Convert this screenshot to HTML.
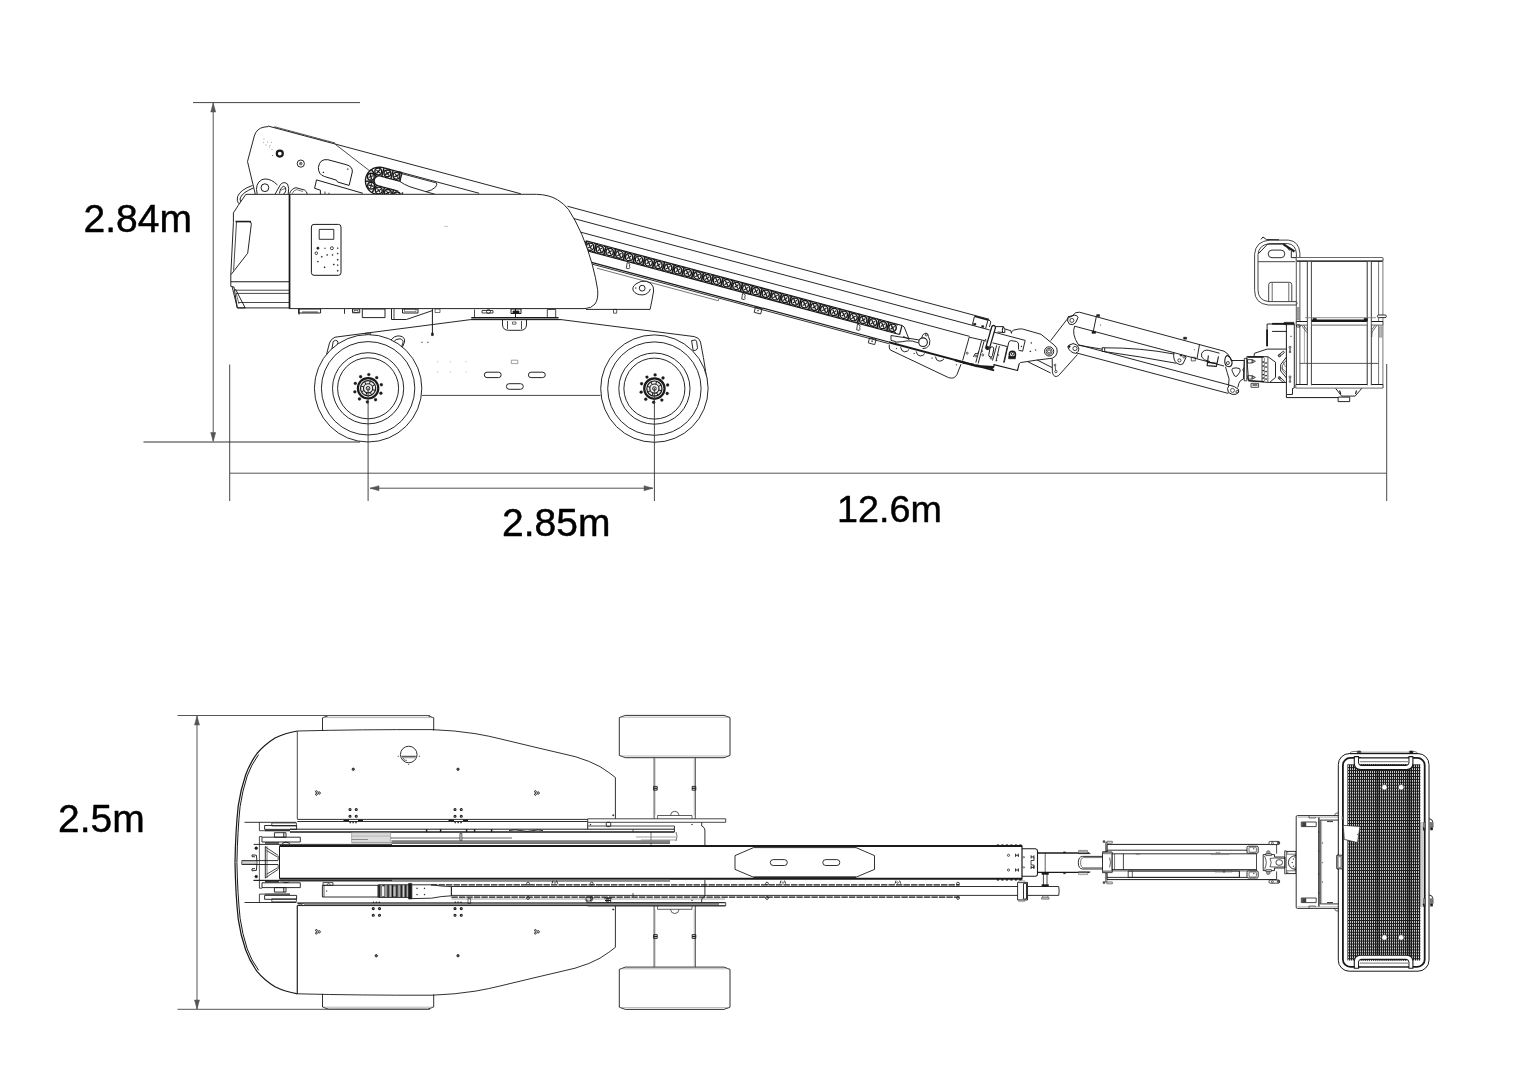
<!DOCTYPE html>
<html><head><meta charset="utf-8"><title>Boom lift dimensions</title>
<style>
html,body{margin:0;padding:0;background:#fff;}
body{width:1540px;height:1080px;overflow:hidden;font-family:"Liberation Sans",sans-serif;}
svg{display:block;filter:grayscale(1);}
svg text{font-family:"Liberation Sans",sans-serif;}
</style></head><body>
<svg width="1540" height="1080" viewBox="0 0 1540 1080" stroke-linecap="butt" stroke-linejoin="round">
<rect x="0" y="0" width="1540" height="1080" fill="#fff"/>
<path d="M326.50 354.50 L329.50 343.00 L331.50 339.50 L335.00 337.20 L470.70 319.60 L561.00 319.60 L694.30 336.60 L698.50 338.50 L700.50 342.00 L703.40 357.40 L707.00 380.00" stroke="#1a1a1a" stroke-width="0.95" fill="none" />
<line x1="422" y1="395.4" x2="600.6" y2="395.4" stroke="#1a1a1a" stroke-width="0.8"/>
<path d="M333.2 341.5 q2.5 -2.2 4.3 -0.5 q1.2 1.6 -0.5 4.2 l-3.6 4.6 q-1.5 0.5 -1.4 -1.2 z" stroke="#1a1a1a" stroke-width="0.95" fill="none" />
<path d="M390 341.5 q4 -6.5 10 -5.5 q5.5 1.2 4.5 6 l-2 5" stroke="#1a1a1a" stroke-width="0.95" fill="none" />
<path d="M392.5 343 q3.5 -4.8 7.5 -4.2 q3.6 0.8 3 4 l-1.5 4" stroke="#1a1a1a" stroke-width="0.95" fill="none" />
<rect x="365.5" y="333.2" width="5.2" height="2.6" rx="0" stroke="#1a1a1a" stroke-width="0.8" fill="none"/>
<path d="M691.6 340.6 l3.6 -0.6 q1.2 0.2 1.5 1.8 l0.8 6 q-0.2 1.8 -1.8 2.4 l-2.6 0.4 z" stroke="#1a1a1a" stroke-width="0.95" fill="none" />
<line x1="432.4" y1="309" x2="432.4" y2="333" stroke="#1a1a1a" stroke-width="1.0"/>
<rect x="431.5" y="333" width="1.8" height="2.6" rx="0" stroke="#1a1a1a" stroke-width="0.6" fill="#1a1a1a"/>
<circle cx="422" cy="342.2" r="0.5" stroke="#1a1a1a" stroke-width="0.2" fill="#1a1a1a"/>
<circle cx="427.9" cy="342.2" r="0.5" stroke="#1a1a1a" stroke-width="0.2" fill="#1a1a1a"/>
<circle cx="437.6" cy="361.7" r="0.5" stroke="#bbb" stroke-width="0.2" fill="#bbb"/>
<circle cx="437.6" cy="372" r="0.5" stroke="#bbb" stroke-width="0.2" fill="#bbb"/>
<circle cx="450.6" cy="361.7" r="0.5" stroke="#bbb" stroke-width="0.2" fill="#bbb"/>
<circle cx="450.6" cy="372" r="0.5" stroke="#bbb" stroke-width="0.2" fill="#bbb"/>
<circle cx="466.2" cy="361.7" r="0.5" stroke="#bbb" stroke-width="0.2" fill="#bbb"/>
<circle cx="466.2" cy="372" r="0.5" stroke="#bbb" stroke-width="0.2" fill="#bbb"/>
<rect x="484.3" y="372.2" width="16.9" height="5.4" rx="2.7" stroke="#1a1a1a" stroke-width="0.95" fill="none"/>
<rect x="528.4" y="372.2" width="16.9" height="5.4" rx="2.7" stroke="#1a1a1a" stroke-width="0.95" fill="none"/>
<rect x="506.4" y="383.7" width="16.9" height="5.6" rx="2.8" stroke="#1a1a1a" stroke-width="0.95" fill="none"/>
<rect x="511.3" y="360.2" width="6.5" height="3.4" rx="0" stroke="#777" stroke-width="0.7" fill="none"/>
<circle cx="368.1" cy="388.3" r="53.7" stroke="#1a1a1a" stroke-width="0.95" fill="#fff"/>
<circle cx="368.1" cy="388.3" r="46.7" stroke="#1a1a1a" stroke-width="0.95" fill="none"/>
<circle cx="368.1" cy="388.3" r="35.6" stroke="#1a1a1a" stroke-width="0.95" fill="none"/>
<circle cx="368.1" cy="388.3" r="30.5" stroke="#1a1a1a" stroke-width="0.95" fill="none"/>
<circle cx="368.1" cy="388.3" r="10.2" stroke="#1a1a1a" stroke-width="2.2" fill="#ececec"/>
<circle cx="368.1" cy="388.3" r="7.6" stroke="#1a1a1a" stroke-width="1.2" fill="none"/>
<circle cx="368.1" cy="388.3" r="4.6" stroke="#1a1a1a" stroke-width="1.1" fill="none"/>
<circle cx="368.1" cy="388.3" r="1.8" stroke="#1a1a1a" stroke-width="1.0" fill="none"/>
<line x1="372.49454784997783" y1="389.6593929506422" x2="375.3605573173546" y2="390.5459535706262" stroke="#1a1a1a" stroke-width="1.0"/>
<line x1="370.24617861127183" y1="392.36865055866434" x2="371.6458603142752" y2="395.022118314315" stroke="#1a1a1a" stroke-width="1.0"/>
<line x1="366.74060704935783" y1="392.6945478499778" x2="365.85404642937385" y2="395.5605573173546" stroke="#1a1a1a" stroke-width="1.0"/>
<line x1="364.0313494413357" y1="390.4461786112718" x2="361.37788168568505" y2="391.84586031427517" stroke="#1a1a1a" stroke-width="1.0"/>
<line x1="363.7054521500222" y1="386.9406070493578" x2="360.8394426826454" y2="386.05404642937384" stroke="#1a1a1a" stroke-width="1.0"/>
<line x1="365.9538213887282" y1="384.2313494413357" x2="364.55413968572486" y2="381.57788168568504" stroke="#1a1a1a" stroke-width="1.0"/>
<line x1="369.45939295064215" y1="383.9054521500222" x2="370.3459535706262" y2="381.0394426826454" stroke="#1a1a1a" stroke-width="1.0"/>
<line x1="372.16865055866435" y1="386.1538213887282" x2="374.822118314315" y2="384.75413968572485" stroke="#1a1a1a" stroke-width="1.0"/>
<circle cx="368.8170026005284" cy="374.6187753738624" r="1.45" stroke="#1a1a1a" stroke-width="0.3" fill="#1a1a1a"/>
<circle cx="376.7216893573828" cy="377.6531003280395" r="1.45" stroke="#1a1a1a" stroke-width="0.3" fill="#1a1a1a"/>
<circle cx="381.33318382016023" cy="384.7541790820955" r="1.45" stroke="#1a1a1a" stroke-width="0.3" fill="#1a1a1a"/>
<circle cx="380.8900518430117" cy="393.2096409087706" r="1.45" stroke="#1a1a1a" stroke-width="0.3" fill="#1a1a1a"/>
<circle cx="375.5615547797059" cy="399.7897867808523" r="1.45" stroke="#1a1a1a" stroke-width="0.3" fill="#1a1a1a"/>
<circle cx="367.3829973994717" cy="401.98122462613765" r="1.45" stroke="#1a1a1a" stroke-width="0.3" fill="#1a1a1a"/>
<circle cx="359.47831064261726" cy="398.9468996719605" r="1.45" stroke="#1a1a1a" stroke-width="0.3" fill="#1a1a1a"/>
<circle cx="354.8668161798398" cy="391.8458209179046" r="1.45" stroke="#1a1a1a" stroke-width="0.3" fill="#1a1a1a"/>
<circle cx="355.30994815698836" cy="383.3903590912294" r="1.45" stroke="#1a1a1a" stroke-width="0.3" fill="#1a1a1a"/>
<circle cx="360.63844522029416" cy="376.8102132191477" r="1.45" stroke="#1a1a1a" stroke-width="0.3" fill="#1a1a1a"/>
<circle cx="654.4" cy="388.6" r="53.7" stroke="#1a1a1a" stroke-width="0.95" fill="#fff"/>
<circle cx="654.4" cy="388.6" r="46.7" stroke="#1a1a1a" stroke-width="0.95" fill="none"/>
<circle cx="654.4" cy="388.6" r="35.6" stroke="#1a1a1a" stroke-width="0.95" fill="none"/>
<circle cx="654.4" cy="388.6" r="30.5" stroke="#1a1a1a" stroke-width="0.95" fill="none"/>
<circle cx="654.4" cy="388.6" r="10.2" stroke="#1a1a1a" stroke-width="2.2" fill="#ececec"/>
<circle cx="654.4" cy="388.6" r="7.6" stroke="#1a1a1a" stroke-width="1.2" fill="none"/>
<circle cx="654.4" cy="388.6" r="4.6" stroke="#1a1a1a" stroke-width="1.1" fill="none"/>
<circle cx="654.4" cy="388.6" r="1.8" stroke="#1a1a1a" stroke-width="1.0" fill="none"/>
<line x1="658.7945478499778" y1="389.9593929506422" x2="661.6605573173546" y2="390.8459535706262" stroke="#1a1a1a" stroke-width="1.0"/>
<line x1="656.5461786112718" y1="392.66865055866435" x2="657.9458603142751" y2="395.322118314315" stroke="#1a1a1a" stroke-width="1.0"/>
<line x1="653.0406070493578" y1="392.99454784997783" x2="652.1540464293738" y2="395.8605573173546" stroke="#1a1a1a" stroke-width="1.0"/>
<line x1="650.3313494413356" y1="390.74617861127183" x2="647.6778816856851" y2="392.1458603142752" stroke="#1a1a1a" stroke-width="1.0"/>
<line x1="650.0054521500222" y1="387.24060704935783" x2="647.1394426826454" y2="386.35404642937385" stroke="#1a1a1a" stroke-width="1.0"/>
<line x1="652.2538213887282" y1="384.5313494413357" x2="650.8541396857248" y2="381.87788168568505" stroke="#1a1a1a" stroke-width="1.0"/>
<line x1="655.7593929506421" y1="384.2054521500222" x2="656.6459535706261" y2="381.3394426826454" stroke="#1a1a1a" stroke-width="1.0"/>
<line x1="658.4686505586643" y1="386.4538213887282" x2="661.1221183143149" y2="385.05413968572486" stroke="#1a1a1a" stroke-width="1.0"/>
<circle cx="655.1170026005283" cy="374.9187753738624" r="1.45" stroke="#1a1a1a" stroke-width="0.3" fill="#1a1a1a"/>
<circle cx="663.0216893573828" cy="377.9531003280395" r="1.45" stroke="#1a1a1a" stroke-width="0.3" fill="#1a1a1a"/>
<circle cx="667.6331838201602" cy="385.0541790820955" r="1.45" stroke="#1a1a1a" stroke-width="0.3" fill="#1a1a1a"/>
<circle cx="667.1900518430116" cy="393.5096409087706" r="1.45" stroke="#1a1a1a" stroke-width="0.3" fill="#1a1a1a"/>
<circle cx="661.8615547797059" cy="400.0897867808523" r="1.45" stroke="#1a1a1a" stroke-width="0.3" fill="#1a1a1a"/>
<circle cx="653.6829973994717" cy="402.28122462613766" r="1.45" stroke="#1a1a1a" stroke-width="0.3" fill="#1a1a1a"/>
<circle cx="645.7783106426172" cy="399.24689967196053" r="1.45" stroke="#1a1a1a" stroke-width="0.3" fill="#1a1a1a"/>
<circle cx="641.1668161798398" cy="392.1458209179046" r="1.45" stroke="#1a1a1a" stroke-width="0.3" fill="#1a1a1a"/>
<circle cx="641.6099481569884" cy="383.6903590912294" r="1.45" stroke="#1a1a1a" stroke-width="0.3" fill="#1a1a1a"/>
<circle cx="646.938445220294" cy="377.11021321914774" r="1.45" stroke="#1a1a1a" stroke-width="0.3" fill="#1a1a1a"/>
<line x1="474.5" y1="309.5" x2="474.5" y2="317.3" stroke="#1a1a1a" stroke-width="0.8"/>
<line x1="471.3" y1="317.7" x2="558.5" y2="317.7" stroke="#1a1a1a" stroke-width="1.4"/>
<line x1="470.7" y1="319.6" x2="561" y2="319.6" stroke="#1a1a1a" stroke-width="0.8"/>
<rect x="547.3" y="309.5" width="8.4" height="8" rx="0" stroke="#1a1a1a" stroke-width="0.8" fill="none"/>
<path d="M502.5 320 v5 q0.5 5.3 6 5.3 h12 q5.5 0 6 -5.3 v-5" stroke="#1a1a1a" stroke-width="0.95" fill="none" />
<line x1="507.5" y1="321" x2="507.5" y2="329" stroke="#1a1a1a" stroke-width="0.8"/>
<line x1="521.5" y1="321" x2="521.5" y2="329" stroke="#1a1a1a" stroke-width="0.8"/>
<rect x="512.5" y="322" width="3.5" height="2.2" rx="0" stroke="#1a1a1a" stroke-width="0.6" fill="none"/>
<rect x="482" y="310.5" width="11" height="2.5" rx="0" stroke="#1a1a1a" stroke-width="0.8" fill="none"/>
<circle cx="488.5" cy="311.5" r="2" stroke="#1a1a1a" stroke-width="0.8" fill="none"/>
<rect x="511" y="309" width="10" height="4.5" rx="0" stroke="#1a1a1a" stroke-width="1.0" fill="none"/>
<line x1="515.5" y1="308" x2="515.5" y2="317" stroke="#1a1a1a" stroke-width="1.0"/>
<rect x="513" y="311" width="6" height="2" rx="0" stroke="#1a1a1a" stroke-width="0.8" fill="#1a1a1a"/>
<rect x="298.6" y="309" width="22" height="4" rx="0" stroke="#1a1a1a" stroke-width="0.95" fill="none"/>
<line x1="299" y1="309" x2="299" y2="314.5" stroke="#1a1a1a" stroke-width="1.2"/>
<line x1="302" y1="312" x2="318" y2="312" stroke="#1a1a1a" stroke-width="0.8"/>
<line x1="344.5" y1="309" x2="344.5" y2="313.8" stroke="#1a1a1a" stroke-width="0.9"/>
<rect x="352.5" y="309" width="7.2" height="3.8" rx="0" stroke="#1a1a1a" stroke-width="0.95" fill="none"/>
<rect x="354" y="310.5" width="4" height="2" rx="0" stroke="#1a1a1a" stroke-width="0.6" fill="none"/>
<rect x="362.3" y="309" width="22.7" height="8.6" rx="0" stroke="#1a1a1a" stroke-width="0.95" fill="none"/>
<path d="M391.50 309.00 L391.50 319.50 L406.40 319.50 L432.40 310.60" stroke="#1a1a1a" stroke-width="0.95" fill="none" />
<line x1="394" y1="309" x2="394" y2="319.5" stroke="#1a1a1a" stroke-width="0.8"/>
<rect x="402.5" y="309" width="15.5" height="4" rx="0" stroke="#1a1a1a" stroke-width="0.95" fill="none"/>
<rect x="404.5" y="309" width="11.5" height="2.6" rx="0" stroke="#1a1a1a" stroke-width="0.5" fill="none"/>
<rect x="435" y="309" width="5" height="3.5" rx="0" stroke="#1a1a1a" stroke-width="0.6" fill="none"/>
<path d="M586.00 309.40 L650.10 309.40 L652.00 300.00 L653.60 291.00 L653.20 287.00 L651.00 283.50 L646.50 281.30" stroke="#1a1a1a" stroke-width="0.95" fill="none" />
<rect x="613.5" y="309.4" width="3.2" height="3.8" rx="0" stroke="#1a1a1a" stroke-width="0.7" fill="none"/>
<path d="M646.5 281.3 q-5.5 -1.2 -10.5 2.6 q-4.5 3.2 -2.6 7 q2.8 4.2 9.5 4 q5.6 -0.6 7.5 -6" stroke="#1a1a1a" stroke-width="0.95" fill="none" />
<circle cx="642.2" cy="288.2" r="2.9" stroke="#1a1a1a" stroke-width="0.95" fill="none"/>
<circle cx="635.8" cy="288" r="0.5" stroke="#1a1a1a" stroke-width="0.3" fill="#1a1a1a"/>
<line x1="268.0" y1="126.03" x2="520.8" y2="193.77" stroke="#1a1a1a" stroke-width="0.95"/>
<line x1="274.26" y1="126.67" x2="335.26" y2="143.02" stroke="#1a1a1a" stroke-width="0.7"/>
<line x1="275.26" y1="126.94" x2="276.45" y2="128.29" stroke="#1a1a1a" stroke-width="0.5"/>
<line x1="279.7" y1="128.13" x2="280.89" y2="129.49" stroke="#1a1a1a" stroke-width="0.5"/>
<line x1="284.15" y1="129.32" x2="285.34" y2="130.68" stroke="#1a1a1a" stroke-width="0.5"/>
<line x1="288.59" y1="130.51" x2="289.78" y2="131.87" stroke="#1a1a1a" stroke-width="0.5"/>
<line x1="293.03" y1="131.7" x2="294.22" y2="133.06" stroke="#1a1a1a" stroke-width="0.5"/>
<line x1="297.48" y1="132.89" x2="298.67" y2="134.25" stroke="#1a1a1a" stroke-width="0.5"/>
<line x1="301.92" y1="134.08" x2="303.11" y2="135.44" stroke="#1a1a1a" stroke-width="0.5"/>
<line x1="306.36" y1="135.27" x2="307.55" y2="136.63" stroke="#1a1a1a" stroke-width="0.5"/>
<line x1="310.8" y1="136.46" x2="311.99" y2="137.82" stroke="#1a1a1a" stroke-width="0.5"/>
<line x1="315.25" y1="137.66" x2="316.44" y2="139.01" stroke="#1a1a1a" stroke-width="0.5"/>
<line x1="319.69" y1="138.85" x2="320.88" y2="140.2" stroke="#1a1a1a" stroke-width="0.5"/>
<line x1="324.13" y1="140.04" x2="325.32" y2="141.39" stroke="#1a1a1a" stroke-width="0.5"/>
<line x1="328.58" y1="141.23" x2="329.77" y2="142.58" stroke="#1a1a1a" stroke-width="0.5"/>
<line x1="333.02" y1="142.42" x2="334.21" y2="143.77" stroke="#1a1a1a" stroke-width="0.5"/>
<line x1="398.94" y1="171.78" x2="479.14" y2="193.27" stroke="#1a1a1a" stroke-width="0.95"/>
<line x1="398.85" y1="172.89" x2="435.85" y2="182.81" stroke="#1a1a1a" stroke-width="0.9"/>
<line x1="567.5" y1="206.28" x2="989.0" y2="319.22" stroke="#1a1a1a" stroke-width="0.95"/>
<line x1="570.36" y1="217.61" x2="989.67" y2="329.96" stroke="#1a1a1a" stroke-width="0.95"/>
<line x1="575.41" y1="230.76" x2="969.42" y2="336.34" stroke="#1a1a1a" stroke-width="0.95"/>
<line x1="591.57" y1="262.32" x2="888.87" y2="341.98" stroke="#1a1a1a" stroke-width="1.2"/>
<line x1="888.82" y1="342.18" x2="994.12" y2="370.39" stroke="#1a1a1a" stroke-width="2.0"/>
<line x1="591.45" y1="263.94" x2="888.75" y2="343.61" stroke="#1a1a1a" stroke-width="0.9"/>
<line x1="596.91" y1="268.2" x2="718.31" y2="300.73" stroke="#1a1a1a" stroke-width="0.6"/>
<line x1="718.31" y1="300.73" x2="718.88" y2="298.61" stroke="#1a1a1a" stroke-width="0.6"/>
<line x1="586.22" y1="240.8" x2="902.02" y2="325.42" stroke="#1a1a1a" stroke-width="1.1"/>
<line x1="583.79" y1="249.88" x2="899.59" y2="334.5" stroke="#1a1a1a" stroke-width="1.1"/>
<line x1="586.22" y1="240.8" x2="583.79" y2="249.88" stroke="#1a1a1a" stroke-width="1.2"/>
<line x1="902.02" y1="325.42" x2="899.59" y2="334.5" stroke="#1a1a1a" stroke-width="1.2"/>
<line x1="586.61" y1="240.91" x2="584.17" y2="249.99" stroke="#1a1a1a" stroke-width="1.7"/>
<circle cx="590.12" cy="246.71" r="3.7" stroke="#1a1a1a" stroke-width="1.5" fill="none"/>
<line x1="588.86" y1="244.1" x2="591.39" y2="249.33" stroke="#1a1a1a" stroke-width="1.3"/>
<line x1="587.99" y1="248.11" x2="589.76" y2="246.93" stroke="#1a1a1a" stroke-width="1.2"/>
<line x1="590.71" y1="246.46" x2="592.26" y2="245.32" stroke="#1a1a1a" stroke-width="1.2"/>
<line x1="587.22" y1="241.69" x2="588.58" y2="242.06" stroke="#1a1a1a" stroke-width="1.3"/>
<line x1="593.99" y1="243.5" x2="595.53" y2="243.92" stroke="#1a1a1a" stroke-width="1.3"/>
<line x1="585.1" y1="249.61" x2="586.45" y2="249.98" stroke="#1a1a1a" stroke-width="1.3"/>
<line x1="591.86" y1="251.43" x2="593.41" y2="251.84" stroke="#1a1a1a" stroke-width="1.3"/>
<line x1="596.36" y1="243.52" x2="593.93" y2="252.6" stroke="#1a1a1a" stroke-width="1.7"/>
<circle cx="599.88" cy="249.33" r="3.7" stroke="#1a1a1a" stroke-width="1.5" fill="none"/>
<line x1="598.61" y1="246.71" x2="601.15" y2="251.95" stroke="#1a1a1a" stroke-width="1.3"/>
<line x1="597.75" y1="250.72" x2="599.51" y2="249.54" stroke="#1a1a1a" stroke-width="1.2"/>
<line x1="600.47" y1="249.07" x2="602.01" y2="247.93" stroke="#1a1a1a" stroke-width="1.2"/>
<line x1="596.98" y1="244.31" x2="598.33" y2="244.67" stroke="#1a1a1a" stroke-width="1.3"/>
<line x1="603.74" y1="246.12" x2="605.29" y2="246.53" stroke="#1a1a1a" stroke-width="1.3"/>
<line x1="594.86" y1="252.23" x2="596.21" y2="252.59" stroke="#1a1a1a" stroke-width="1.3"/>
<line x1="601.62" y1="254.04" x2="603.16" y2="254.45" stroke="#1a1a1a" stroke-width="1.3"/>
<line x1="606.12" y1="246.13" x2="603.69" y2="255.21" stroke="#1a1a1a" stroke-width="1.7"/>
<circle cx="609.64" cy="251.94" r="3.7" stroke="#1a1a1a" stroke-width="1.5" fill="none"/>
<line x1="608.37" y1="249.33" x2="610.9" y2="254.56" stroke="#1a1a1a" stroke-width="1.3"/>
<line x1="607.5" y1="253.34" x2="609.27" y2="252.15" stroke="#1a1a1a" stroke-width="1.2"/>
<line x1="610.22" y1="251.69" x2="611.77" y2="250.55" stroke="#1a1a1a" stroke-width="1.2"/>
<line x1="606.74" y1="246.92" x2="608.09" y2="247.28" stroke="#1a1a1a" stroke-width="1.3"/>
<line x1="613.5" y1="248.73" x2="615.04" y2="249.15" stroke="#1a1a1a" stroke-width="1.3"/>
<line x1="604.61" y1="254.84" x2="605.97" y2="255.2" stroke="#1a1a1a" stroke-width="1.3"/>
<line x1="611.38" y1="256.65" x2="612.92" y2="257.07" stroke="#1a1a1a" stroke-width="1.3"/>
<line x1="615.87" y1="248.75" x2="613.44" y2="257.83" stroke="#1a1a1a" stroke-width="1.7"/>
<circle cx="619.39" cy="254.56" r="3.7" stroke="#1a1a1a" stroke-width="1.5" fill="none"/>
<line x1="618.13" y1="251.94" x2="620.66" y2="257.17" stroke="#1a1a1a" stroke-width="1.3"/>
<line x1="617.26" y1="255.95" x2="619.02" y2="254.77" stroke="#1a1a1a" stroke-width="1.2"/>
<line x1="619.98" y1="254.3" x2="621.52" y2="253.16" stroke="#1a1a1a" stroke-width="1.2"/>
<line x1="616.49" y1="249.54" x2="617.84" y2="249.9" stroke="#1a1a1a" stroke-width="1.3"/>
<line x1="623.25" y1="251.35" x2="624.8" y2="251.76" stroke="#1a1a1a" stroke-width="1.3"/>
<line x1="614.37" y1="257.46" x2="615.72" y2="257.82" stroke="#1a1a1a" stroke-width="1.3"/>
<line x1="621.13" y1="259.27" x2="622.68" y2="259.68" stroke="#1a1a1a" stroke-width="1.3"/>
<line x1="625.63" y1="251.36" x2="623.2" y2="260.44" stroke="#1a1a1a" stroke-width="1.7"/>
<circle cx="629.15" cy="257.17" r="3.7" stroke="#1a1a1a" stroke-width="1.5" fill="none"/>
<line x1="627.88" y1="254.55" x2="630.41" y2="259.79" stroke="#1a1a1a" stroke-width="1.3"/>
<line x1="627.01" y1="258.57" x2="628.78" y2="257.38" stroke="#1a1a1a" stroke-width="1.2"/>
<line x1="629.73" y1="256.91" x2="631.28" y2="255.78" stroke="#1a1a1a" stroke-width="1.2"/>
<line x1="626.25" y1="252.15" x2="627.6" y2="252.51" stroke="#1a1a1a" stroke-width="1.3"/>
<line x1="633.01" y1="253.96" x2="634.55" y2="254.38" stroke="#1a1a1a" stroke-width="1.3"/>
<line x1="624.13" y1="260.07" x2="625.48" y2="260.43" stroke="#1a1a1a" stroke-width="1.3"/>
<line x1="630.89" y1="261.88" x2="632.43" y2="262.3" stroke="#1a1a1a" stroke-width="1.3"/>
<line x1="635.39" y1="253.98" x2="632.95" y2="263.06" stroke="#1a1a1a" stroke-width="1.7"/>
<circle cx="638.9" cy="259.78" r="3.7" stroke="#1a1a1a" stroke-width="1.5" fill="none"/>
<line x1="637.64" y1="257.17" x2="640.17" y2="262.4" stroke="#1a1a1a" stroke-width="1.3"/>
<line x1="636.77" y1="261.18" x2="638.54" y2="260.0" stroke="#1a1a1a" stroke-width="1.2"/>
<line x1="639.49" y1="259.53" x2="641.04" y2="258.39" stroke="#1a1a1a" stroke-width="1.2"/>
<line x1="636.0" y1="254.76" x2="637.36" y2="255.13" stroke="#1a1a1a" stroke-width="1.3"/>
<line x1="642.76" y1="256.58" x2="644.31" y2="256.99" stroke="#1a1a1a" stroke-width="1.3"/>
<line x1="633.88" y1="262.68" x2="635.23" y2="263.05" stroke="#1a1a1a" stroke-width="1.3"/>
<line x1="640.64" y1="264.5" x2="642.19" y2="264.91" stroke="#1a1a1a" stroke-width="1.3"/>
<line x1="645.14" y1="256.59" x2="642.71" y2="265.67" stroke="#1a1a1a" stroke-width="1.7"/>
<circle cx="648.66" cy="262.4" r="3.7" stroke="#1a1a1a" stroke-width="1.5" fill="none"/>
<line x1="647.39" y1="259.78" x2="649.92" y2="265.02" stroke="#1a1a1a" stroke-width="1.3"/>
<line x1="646.52" y1="263.79" x2="648.29" y2="262.61" stroke="#1a1a1a" stroke-width="1.2"/>
<line x1="649.24" y1="262.14" x2="650.79" y2="261.0" stroke="#1a1a1a" stroke-width="1.2"/>
<line x1="645.76" y1="257.38" x2="647.11" y2="257.74" stroke="#1a1a1a" stroke-width="1.3"/>
<line x1="652.52" y1="259.19" x2="654.07" y2="259.6" stroke="#1a1a1a" stroke-width="1.3"/>
<line x1="643.64" y1="265.3" x2="644.99" y2="265.66" stroke="#1a1a1a" stroke-width="1.3"/>
<line x1="650.4" y1="267.11" x2="651.94" y2="267.52" stroke="#1a1a1a" stroke-width="1.3"/>
<line x1="654.9" y1="259.21" x2="652.46" y2="268.28" stroke="#1a1a1a" stroke-width="1.7"/>
<circle cx="658.41" cy="265.01" r="3.7" stroke="#1a1a1a" stroke-width="1.5" fill="none"/>
<line x1="657.15" y1="262.4" x2="659.68" y2="267.63" stroke="#1a1a1a" stroke-width="1.3"/>
<line x1="656.28" y1="266.41" x2="658.05" y2="265.23" stroke="#1a1a1a" stroke-width="1.2"/>
<line x1="659.0" y1="264.76" x2="660.55" y2="263.62" stroke="#1a1a1a" stroke-width="1.2"/>
<line x1="655.52" y1="259.99" x2="656.87" y2="260.35" stroke="#1a1a1a" stroke-width="1.3"/>
<line x1="662.28" y1="261.8" x2="663.82" y2="262.22" stroke="#1a1a1a" stroke-width="1.3"/>
<line x1="653.39" y1="267.91" x2="654.75" y2="268.27" stroke="#1a1a1a" stroke-width="1.3"/>
<line x1="660.15" y1="269.72" x2="661.7" y2="270.14" stroke="#1a1a1a" stroke-width="1.3"/>
<line x1="664.65" y1="261.82" x2="662.22" y2="270.9" stroke="#1a1a1a" stroke-width="1.7"/>
<circle cx="668.17" cy="267.63" r="3.7" stroke="#1a1a1a" stroke-width="1.5" fill="none"/>
<line x1="666.9" y1="265.01" x2="669.44" y2="270.24" stroke="#1a1a1a" stroke-width="1.3"/>
<line x1="666.04" y1="269.02" x2="667.8" y2="267.84" stroke="#1a1a1a" stroke-width="1.2"/>
<line x1="668.76" y1="267.37" x2="670.3" y2="266.23" stroke="#1a1a1a" stroke-width="1.2"/>
<line x1="665.27" y1="262.61" x2="666.62" y2="262.97" stroke="#1a1a1a" stroke-width="1.3"/>
<line x1="672.03" y1="264.42" x2="673.58" y2="264.83" stroke="#1a1a1a" stroke-width="1.3"/>
<line x1="663.15" y1="270.53" x2="664.5" y2="270.89" stroke="#1a1a1a" stroke-width="1.3"/>
<line x1="669.91" y1="272.34" x2="671.46" y2="272.75" stroke="#1a1a1a" stroke-width="1.3"/>
<line x1="674.41" y1="264.43" x2="671.98" y2="273.51" stroke="#1a1a1a" stroke-width="1.7"/>
<circle cx="677.93" cy="270.24" r="3.7" stroke="#1a1a1a" stroke-width="1.5" fill="none"/>
<line x1="676.66" y1="267.62" x2="679.19" y2="272.86" stroke="#1a1a1a" stroke-width="1.3"/>
<line x1="675.79" y1="271.64" x2="677.56" y2="270.45" stroke="#1a1a1a" stroke-width="1.2"/>
<line x1="678.51" y1="269.98" x2="680.06" y2="268.85" stroke="#1a1a1a" stroke-width="1.2"/>
<line x1="675.03" y1="265.22" x2="676.38" y2="265.58" stroke="#1a1a1a" stroke-width="1.3"/>
<line x1="681.79" y1="267.03" x2="683.33" y2="267.45" stroke="#1a1a1a" stroke-width="1.3"/>
<line x1="672.9" y1="273.14" x2="674.26" y2="273.5" stroke="#1a1a1a" stroke-width="1.3"/>
<line x1="679.67" y1="274.95" x2="681.21" y2="275.37" stroke="#1a1a1a" stroke-width="1.3"/>
<line x1="684.17" y1="267.05" x2="681.73" y2="276.13" stroke="#1a1a1a" stroke-width="1.7"/>
<circle cx="687.68" cy="272.86" r="3.7" stroke="#1a1a1a" stroke-width="1.5" fill="none"/>
<line x1="686.42" y1="270.24" x2="688.95" y2="275.47" stroke="#1a1a1a" stroke-width="1.3"/>
<line x1="685.55" y1="274.25" x2="687.31" y2="273.07" stroke="#1a1a1a" stroke-width="1.2"/>
<line x1="688.27" y1="272.6" x2="689.82" y2="271.46" stroke="#1a1a1a" stroke-width="1.2"/>
<line x1="684.78" y1="267.83" x2="686.14" y2="268.2" stroke="#1a1a1a" stroke-width="1.3"/>
<line x1="691.54" y1="269.65" x2="693.09" y2="270.06" stroke="#1a1a1a" stroke-width="1.3"/>
<line x1="682.66" y1="275.75" x2="684.01" y2="276.12" stroke="#1a1a1a" stroke-width="1.3"/>
<line x1="689.42" y1="277.57" x2="690.97" y2="277.98" stroke="#1a1a1a" stroke-width="1.3"/>
<line x1="693.92" y1="269.66" x2="691.49" y2="278.74" stroke="#1a1a1a" stroke-width="1.7"/>
<circle cx="697.44" cy="275.47" r="3.7" stroke="#1a1a1a" stroke-width="1.5" fill="none"/>
<line x1="696.17" y1="272.85" x2="698.7" y2="278.09" stroke="#1a1a1a" stroke-width="1.3"/>
<line x1="695.3" y1="276.86" x2="697.07" y2="275.68" stroke="#1a1a1a" stroke-width="1.2"/>
<line x1="698.02" y1="275.21" x2="699.57" y2="274.07" stroke="#1a1a1a" stroke-width="1.2"/>
<line x1="694.54" y1="270.45" x2="695.89" y2="270.81" stroke="#1a1a1a" stroke-width="1.3"/>
<line x1="701.3" y1="272.26" x2="702.85" y2="272.67" stroke="#1a1a1a" stroke-width="1.3"/>
<line x1="692.42" y1="278.37" x2="693.77" y2="278.73" stroke="#1a1a1a" stroke-width="1.3"/>
<line x1="699.18" y1="280.18" x2="700.72" y2="280.59" stroke="#1a1a1a" stroke-width="1.3"/>
<line x1="703.68" y1="272.28" x2="701.24" y2="281.36" stroke="#1a1a1a" stroke-width="1.7"/>
<circle cx="707.19" cy="278.08" r="3.7" stroke="#1a1a1a" stroke-width="1.5" fill="none"/>
<line x1="705.93" y1="275.47" x2="708.46" y2="280.7" stroke="#1a1a1a" stroke-width="1.3"/>
<line x1="705.06" y1="279.48" x2="706.83" y2="278.3" stroke="#1a1a1a" stroke-width="1.2"/>
<line x1="707.78" y1="277.83" x2="709.33" y2="276.69" stroke="#1a1a1a" stroke-width="1.2"/>
<line x1="704.29" y1="273.06" x2="705.65" y2="273.42" stroke="#1a1a1a" stroke-width="1.3"/>
<line x1="711.06" y1="274.87" x2="712.6" y2="275.29" stroke="#1a1a1a" stroke-width="1.3"/>
<line x1="702.17" y1="280.98" x2="703.52" y2="281.34" stroke="#1a1a1a" stroke-width="1.3"/>
<line x1="708.93" y1="282.79" x2="710.48" y2="283.21" stroke="#1a1a1a" stroke-width="1.3"/>
<line x1="713.43" y1="274.89" x2="711.0" y2="283.97" stroke="#1a1a1a" stroke-width="1.7"/>
<circle cx="716.95" cy="280.7" r="3.7" stroke="#1a1a1a" stroke-width="1.5" fill="none"/>
<line x1="715.68" y1="278.08" x2="718.22" y2="283.31" stroke="#1a1a1a" stroke-width="1.3"/>
<line x1="714.82" y1="282.09" x2="716.58" y2="280.91" stroke="#1a1a1a" stroke-width="1.2"/>
<line x1="717.54" y1="280.44" x2="719.08" y2="279.3" stroke="#1a1a1a" stroke-width="1.2"/>
<line x1="714.05" y1="275.68" x2="715.4" y2="276.04" stroke="#1a1a1a" stroke-width="1.3"/>
<line x1="720.81" y1="277.49" x2="722.36" y2="277.9" stroke="#1a1a1a" stroke-width="1.3"/>
<line x1="711.93" y1="283.6" x2="713.28" y2="283.96" stroke="#1a1a1a" stroke-width="1.3"/>
<line x1="718.69" y1="285.41" x2="720.23" y2="285.82" stroke="#1a1a1a" stroke-width="1.3"/>
<line x1="723.19" y1="277.5" x2="720.76" y2="286.58" stroke="#1a1a1a" stroke-width="1.7"/>
<circle cx="726.71" cy="283.31" r="3.7" stroke="#1a1a1a" stroke-width="1.5" fill="none"/>
<line x1="725.44" y1="280.69" x2="727.97" y2="285.93" stroke="#1a1a1a" stroke-width="1.3"/>
<line x1="724.57" y1="284.71" x2="726.34" y2="283.52" stroke="#1a1a1a" stroke-width="1.2"/>
<line x1="727.29" y1="283.05" x2="728.84" y2="281.92" stroke="#1a1a1a" stroke-width="1.2"/>
<line x1="723.81" y1="278.29" x2="725.16" y2="278.65" stroke="#1a1a1a" stroke-width="1.3"/>
<line x1="730.57" y1="280.1" x2="732.11" y2="280.52" stroke="#1a1a1a" stroke-width="1.3"/>
<line x1="721.68" y1="286.21" x2="723.04" y2="286.57" stroke="#1a1a1a" stroke-width="1.3"/>
<line x1="728.45" y1="288.02" x2="729.99" y2="288.44" stroke="#1a1a1a" stroke-width="1.3"/>
<line x1="732.94" y1="280.12" x2="730.51" y2="289.2" stroke="#1a1a1a" stroke-width="1.7"/>
<circle cx="736.46" cy="285.93" r="3.7" stroke="#1a1a1a" stroke-width="1.5" fill="none"/>
<line x1="735.2" y1="283.31" x2="737.73" y2="288.54" stroke="#1a1a1a" stroke-width="1.3"/>
<line x1="734.33" y1="287.32" x2="736.09" y2="286.14" stroke="#1a1a1a" stroke-width="1.2"/>
<line x1="737.05" y1="285.67" x2="738.59" y2="284.53" stroke="#1a1a1a" stroke-width="1.2"/>
<line x1="733.56" y1="280.9" x2="734.91" y2="281.27" stroke="#1a1a1a" stroke-width="1.3"/>
<line x1="740.32" y1="282.72" x2="741.87" y2="283.13" stroke="#1a1a1a" stroke-width="1.3"/>
<line x1="731.44" y1="288.82" x2="732.79" y2="289.19" stroke="#1a1a1a" stroke-width="1.3"/>
<line x1="738.2" y1="290.64" x2="739.75" y2="291.05" stroke="#1a1a1a" stroke-width="1.3"/>
<line x1="742.7" y1="282.73" x2="740.27" y2="291.81" stroke="#1a1a1a" stroke-width="1.7"/>
<circle cx="746.22" cy="288.54" r="3.7" stroke="#1a1a1a" stroke-width="1.5" fill="none"/>
<line x1="744.95" y1="285.92" x2="747.48" y2="291.16" stroke="#1a1a1a" stroke-width="1.3"/>
<line x1="744.08" y1="289.93" x2="745.85" y2="288.75" stroke="#1a1a1a" stroke-width="1.2"/>
<line x1="746.8" y1="288.28" x2="748.35" y2="287.14" stroke="#1a1a1a" stroke-width="1.2"/>
<line x1="743.32" y1="283.52" x2="744.67" y2="283.88" stroke="#1a1a1a" stroke-width="1.3"/>
<line x1="750.08" y1="285.33" x2="751.62" y2="285.74" stroke="#1a1a1a" stroke-width="1.3"/>
<line x1="741.2" y1="291.44" x2="742.55" y2="291.8" stroke="#1a1a1a" stroke-width="1.3"/>
<line x1="747.96" y1="293.25" x2="749.5" y2="293.66" stroke="#1a1a1a" stroke-width="1.3"/>
<line x1="752.46" y1="285.35" x2="750.02" y2="294.43" stroke="#1a1a1a" stroke-width="1.7"/>
<circle cx="755.97" cy="291.15" r="3.7" stroke="#1a1a1a" stroke-width="1.5" fill="none"/>
<line x1="754.71" y1="288.54" x2="757.24" y2="293.77" stroke="#1a1a1a" stroke-width="1.3"/>
<line x1="753.84" y1="292.55" x2="755.61" y2="291.37" stroke="#1a1a1a" stroke-width="1.2"/>
<line x1="756.56" y1="290.9" x2="758.11" y2="289.76" stroke="#1a1a1a" stroke-width="1.2"/>
<line x1="753.07" y1="286.13" x2="754.43" y2="286.49" stroke="#1a1a1a" stroke-width="1.3"/>
<line x1="759.84" y1="287.94" x2="761.38" y2="288.36" stroke="#1a1a1a" stroke-width="1.3"/>
<line x1="750.95" y1="294.05" x2="752.3" y2="294.42" stroke="#1a1a1a" stroke-width="1.3"/>
<line x1="757.71" y1="295.86" x2="759.26" y2="296.28" stroke="#1a1a1a" stroke-width="1.3"/>
<line x1="762.21" y1="287.96" x2="759.78" y2="297.04" stroke="#1a1a1a" stroke-width="1.7"/>
<circle cx="765.73" cy="293.77" r="3.7" stroke="#1a1a1a" stroke-width="1.5" fill="none"/>
<line x1="764.46" y1="291.15" x2="766.99" y2="296.38" stroke="#1a1a1a" stroke-width="1.3"/>
<line x1="763.59" y1="295.16" x2="765.36" y2="293.98" stroke="#1a1a1a" stroke-width="1.2"/>
<line x1="766.32" y1="293.51" x2="767.86" y2="292.37" stroke="#1a1a1a" stroke-width="1.2"/>
<line x1="762.83" y1="288.75" x2="764.18" y2="289.11" stroke="#1a1a1a" stroke-width="1.3"/>
<line x1="769.59" y1="290.56" x2="771.14" y2="290.97" stroke="#1a1a1a" stroke-width="1.3"/>
<line x1="760.71" y1="296.67" x2="762.06" y2="297.03" stroke="#1a1a1a" stroke-width="1.3"/>
<line x1="767.47" y1="298.48" x2="769.01" y2="298.89" stroke="#1a1a1a" stroke-width="1.3"/>
<line x1="771.97" y1="290.57" x2="769.54" y2="299.65" stroke="#1a1a1a" stroke-width="1.7"/>
<circle cx="775.48" cy="296.38" r="3.7" stroke="#1a1a1a" stroke-width="1.5" fill="none"/>
<line x1="774.22" y1="293.77" x2="776.75" y2="299.0" stroke="#1a1a1a" stroke-width="1.3"/>
<line x1="773.35" y1="297.78" x2="775.12" y2="296.59" stroke="#1a1a1a" stroke-width="1.2"/>
<line x1="776.07" y1="296.12" x2="777.62" y2="294.99" stroke="#1a1a1a" stroke-width="1.2"/>
<line x1="772.59" y1="291.36" x2="773.94" y2="291.72" stroke="#1a1a1a" stroke-width="1.3"/>
<line x1="779.35" y1="293.17" x2="780.89" y2="293.59" stroke="#1a1a1a" stroke-width="1.3"/>
<line x1="770.46" y1="299.28" x2="771.82" y2="299.64" stroke="#1a1a1a" stroke-width="1.3"/>
<line x1="777.22" y1="301.09" x2="778.77" y2="301.51" stroke="#1a1a1a" stroke-width="1.3"/>
<line x1="781.72" y1="293.19" x2="779.29" y2="302.27" stroke="#1a1a1a" stroke-width="1.7"/>
<circle cx="785.24" cy="299.0" r="3.7" stroke="#1a1a1a" stroke-width="1.5" fill="none"/>
<line x1="783.97" y1="296.38" x2="786.51" y2="301.61" stroke="#1a1a1a" stroke-width="1.3"/>
<line x1="783.11" y1="300.39" x2="784.87" y2="299.21" stroke="#1a1a1a" stroke-width="1.2"/>
<line x1="785.83" y1="298.74" x2="787.37" y2="297.6" stroke="#1a1a1a" stroke-width="1.2"/>
<line x1="782.34" y1="293.97" x2="783.69" y2="294.34" stroke="#1a1a1a" stroke-width="1.3"/>
<line x1="789.1" y1="295.79" x2="790.65" y2="296.2" stroke="#1a1a1a" stroke-width="1.3"/>
<line x1="780.22" y1="301.9" x2="781.57" y2="302.26" stroke="#1a1a1a" stroke-width="1.3"/>
<line x1="786.98" y1="303.71" x2="788.53" y2="304.12" stroke="#1a1a1a" stroke-width="1.3"/>
<line x1="791.48" y1="295.8" x2="789.05" y2="304.88" stroke="#1a1a1a" stroke-width="1.7"/>
<circle cx="795.0" cy="301.61" r="3.7" stroke="#1a1a1a" stroke-width="1.5" fill="none"/>
<line x1="793.73" y1="298.99" x2="796.26" y2="304.23" stroke="#1a1a1a" stroke-width="1.3"/>
<line x1="792.86" y1="303.01" x2="794.63" y2="301.82" stroke="#1a1a1a" stroke-width="1.2"/>
<line x1="795.58" y1="301.35" x2="797.13" y2="300.21" stroke="#1a1a1a" stroke-width="1.2"/>
<line x1="792.1" y1="296.59" x2="793.45" y2="296.95" stroke="#1a1a1a" stroke-width="1.3"/>
<line x1="798.86" y1="298.4" x2="800.4" y2="298.81" stroke="#1a1a1a" stroke-width="1.3"/>
<line x1="789.97" y1="304.51" x2="791.33" y2="304.87" stroke="#1a1a1a" stroke-width="1.3"/>
<line x1="796.74" y1="306.32" x2="798.28" y2="306.74" stroke="#1a1a1a" stroke-width="1.3"/>
<line x1="801.24" y1="298.42" x2="798.8" y2="307.5" stroke="#1a1a1a" stroke-width="1.7"/>
<circle cx="804.75" cy="304.22" r="3.7" stroke="#1a1a1a" stroke-width="1.5" fill="none"/>
<line x1="803.49" y1="301.61" x2="806.02" y2="306.84" stroke="#1a1a1a" stroke-width="1.3"/>
<line x1="802.62" y1="305.62" x2="804.38" y2="304.44" stroke="#1a1a1a" stroke-width="1.2"/>
<line x1="805.34" y1="303.97" x2="806.89" y2="302.83" stroke="#1a1a1a" stroke-width="1.2"/>
<line x1="801.85" y1="299.2" x2="803.21" y2="299.57" stroke="#1a1a1a" stroke-width="1.3"/>
<line x1="808.61" y1="301.01" x2="810.16" y2="301.43" stroke="#1a1a1a" stroke-width="1.3"/>
<line x1="799.73" y1="307.12" x2="801.08" y2="307.49" stroke="#1a1a1a" stroke-width="1.3"/>
<line x1="806.49" y1="308.94" x2="808.04" y2="309.35" stroke="#1a1a1a" stroke-width="1.3"/>
<line x1="810.99" y1="301.03" x2="808.56" y2="310.11" stroke="#1a1a1a" stroke-width="1.7"/>
<circle cx="814.51" cy="306.84" r="3.7" stroke="#1a1a1a" stroke-width="1.5" fill="none"/>
<line x1="813.24" y1="304.22" x2="815.77" y2="309.46" stroke="#1a1a1a" stroke-width="1.3"/>
<line x1="812.37" y1="308.23" x2="814.14" y2="307.05" stroke="#1a1a1a" stroke-width="1.2"/>
<line x1="815.09" y1="306.58" x2="816.64" y2="305.44" stroke="#1a1a1a" stroke-width="1.2"/>
<line x1="811.61" y1="301.82" x2="812.96" y2="302.18" stroke="#1a1a1a" stroke-width="1.3"/>
<line x1="818.37" y1="303.63" x2="819.92" y2="304.04" stroke="#1a1a1a" stroke-width="1.3"/>
<line x1="809.49" y1="309.74" x2="810.84" y2="310.1" stroke="#1a1a1a" stroke-width="1.3"/>
<line x1="816.25" y1="311.55" x2="817.79" y2="311.96" stroke="#1a1a1a" stroke-width="1.3"/>
<line x1="820.75" y1="303.64" x2="818.31" y2="312.72" stroke="#1a1a1a" stroke-width="1.7"/>
<circle cx="824.26" cy="309.45" r="3.7" stroke="#1a1a1a" stroke-width="1.5" fill="none"/>
<line x1="823.0" y1="306.84" x2="825.53" y2="312.07" stroke="#1a1a1a" stroke-width="1.3"/>
<line x1="822.13" y1="310.85" x2="823.9" y2="309.66" stroke="#1a1a1a" stroke-width="1.2"/>
<line x1="824.85" y1="309.2" x2="826.4" y2="308.06" stroke="#1a1a1a" stroke-width="1.2"/>
<line x1="821.36" y1="304.43" x2="822.72" y2="304.79" stroke="#1a1a1a" stroke-width="1.3"/>
<line x1="828.13" y1="306.24" x2="829.67" y2="306.66" stroke="#1a1a1a" stroke-width="1.3"/>
<line x1="819.24" y1="312.35" x2="820.59" y2="312.71" stroke="#1a1a1a" stroke-width="1.3"/>
<line x1="826.0" y1="314.16" x2="827.55" y2="314.58" stroke="#1a1a1a" stroke-width="1.3"/>
<line x1="830.5" y1="306.26" x2="828.07" y2="315.34" stroke="#1a1a1a" stroke-width="1.7"/>
<circle cx="834.02" cy="312.07" r="3.7" stroke="#1a1a1a" stroke-width="1.5" fill="none"/>
<line x1="832.75" y1="309.45" x2="835.29" y2="314.68" stroke="#1a1a1a" stroke-width="1.3"/>
<line x1="831.89" y1="313.46" x2="833.65" y2="312.28" stroke="#1a1a1a" stroke-width="1.2"/>
<line x1="834.61" y1="311.81" x2="836.15" y2="310.67" stroke="#1a1a1a" stroke-width="1.2"/>
<line x1="831.12" y1="307.04" x2="832.47" y2="307.41" stroke="#1a1a1a" stroke-width="1.3"/>
<line x1="837.88" y1="308.86" x2="839.43" y2="309.27" stroke="#1a1a1a" stroke-width="1.3"/>
<line x1="829.0" y1="314.97" x2="830.35" y2="315.33" stroke="#1a1a1a" stroke-width="1.3"/>
<line x1="835.76" y1="316.78" x2="837.31" y2="317.19" stroke="#1a1a1a" stroke-width="1.3"/>
<line x1="840.26" y1="308.87" x2="837.83" y2="317.95" stroke="#1a1a1a" stroke-width="1.7"/>
<circle cx="843.78" cy="314.68" r="3.7" stroke="#1a1a1a" stroke-width="1.5" fill="none"/>
<line x1="842.51" y1="312.06" x2="845.04" y2="317.3" stroke="#1a1a1a" stroke-width="1.3"/>
<line x1="841.64" y1="316.08" x2="843.41" y2="314.89" stroke="#1a1a1a" stroke-width="1.2"/>
<line x1="844.36" y1="314.42" x2="845.91" y2="313.29" stroke="#1a1a1a" stroke-width="1.2"/>
<line x1="840.88" y1="309.66" x2="842.23" y2="310.02" stroke="#1a1a1a" stroke-width="1.3"/>
<line x1="847.64" y1="311.47" x2="849.18" y2="311.88" stroke="#1a1a1a" stroke-width="1.3"/>
<line x1="838.75" y1="317.58" x2="840.11" y2="317.94" stroke="#1a1a1a" stroke-width="1.3"/>
<line x1="845.52" y1="319.39" x2="847.06" y2="319.81" stroke="#1a1a1a" stroke-width="1.3"/>
<line x1="850.01" y1="311.49" x2="847.58" y2="320.57" stroke="#1a1a1a" stroke-width="1.7"/>
<circle cx="853.53" cy="317.29" r="3.7" stroke="#1a1a1a" stroke-width="1.5" fill="none"/>
<line x1="852.27" y1="314.68" x2="854.8" y2="319.91" stroke="#1a1a1a" stroke-width="1.3"/>
<line x1="851.4" y1="318.69" x2="853.16" y2="317.51" stroke="#1a1a1a" stroke-width="1.2"/>
<line x1="854.12" y1="317.04" x2="855.67" y2="315.9" stroke="#1a1a1a" stroke-width="1.2"/>
<line x1="850.63" y1="312.27" x2="851.98" y2="312.64" stroke="#1a1a1a" stroke-width="1.3"/>
<line x1="857.39" y1="314.08" x2="858.94" y2="314.5" stroke="#1a1a1a" stroke-width="1.3"/>
<line x1="848.51" y1="320.19" x2="849.86" y2="320.56" stroke="#1a1a1a" stroke-width="1.3"/>
<line x1="855.27" y1="322.01" x2="856.82" y2="322.42" stroke="#1a1a1a" stroke-width="1.3"/>
<line x1="859.77" y1="314.1" x2="857.34" y2="323.18" stroke="#1a1a1a" stroke-width="1.7"/>
<circle cx="863.29" cy="319.91" r="3.7" stroke="#1a1a1a" stroke-width="1.5" fill="none"/>
<line x1="862.02" y1="317.29" x2="864.55" y2="322.53" stroke="#1a1a1a" stroke-width="1.3"/>
<line x1="861.15" y1="321.3" x2="862.92" y2="320.12" stroke="#1a1a1a" stroke-width="1.2"/>
<line x1="863.87" y1="319.65" x2="865.42" y2="318.51" stroke="#1a1a1a" stroke-width="1.2"/>
<line x1="860.39" y1="314.89" x2="861.74" y2="315.25" stroke="#1a1a1a" stroke-width="1.3"/>
<line x1="867.15" y1="316.7" x2="868.7" y2="317.11" stroke="#1a1a1a" stroke-width="1.3"/>
<line x1="858.27" y1="322.81" x2="859.62" y2="323.17" stroke="#1a1a1a" stroke-width="1.3"/>
<line x1="865.03" y1="324.62" x2="866.57" y2="325.03" stroke="#1a1a1a" stroke-width="1.3"/>
<line x1="869.53" y1="316.71" x2="867.09" y2="325.79" stroke="#1a1a1a" stroke-width="1.7"/>
<circle cx="873.04" cy="322.52" r="3.7" stroke="#1a1a1a" stroke-width="1.5" fill="none"/>
<line x1="871.78" y1="319.91" x2="874.31" y2="325.14" stroke="#1a1a1a" stroke-width="1.3"/>
<line x1="870.91" y1="323.92" x2="872.68" y2="322.73" stroke="#1a1a1a" stroke-width="1.2"/>
<line x1="873.63" y1="322.27" x2="875.18" y2="321.13" stroke="#1a1a1a" stroke-width="1.2"/>
<line x1="870.14" y1="317.5" x2="871.5" y2="317.86" stroke="#1a1a1a" stroke-width="1.3"/>
<line x1="876.91" y1="319.31" x2="878.45" y2="319.73" stroke="#1a1a1a" stroke-width="1.3"/>
<line x1="868.02" y1="325.42" x2="869.37" y2="325.78" stroke="#1a1a1a" stroke-width="1.3"/>
<line x1="874.78" y1="327.23" x2="876.33" y2="327.65" stroke="#1a1a1a" stroke-width="1.3"/>
<line x1="879.28" y1="319.33" x2="876.85" y2="328.41" stroke="#1a1a1a" stroke-width="1.7"/>
<circle cx="882.8" cy="325.14" r="3.7" stroke="#1a1a1a" stroke-width="1.5" fill="none"/>
<line x1="881.53" y1="322.52" x2="884.06" y2="327.75" stroke="#1a1a1a" stroke-width="1.3"/>
<line x1="880.67" y1="326.53" x2="882.43" y2="325.35" stroke="#1a1a1a" stroke-width="1.2"/>
<line x1="883.39" y1="324.88" x2="884.93" y2="323.74" stroke="#1a1a1a" stroke-width="1.2"/>
<line x1="879.9" y1="320.12" x2="881.25" y2="320.48" stroke="#1a1a1a" stroke-width="1.3"/>
<line x1="886.66" y1="321.93" x2="888.21" y2="322.34" stroke="#1a1a1a" stroke-width="1.3"/>
<line x1="877.78" y1="328.04" x2="879.13" y2="328.4" stroke="#1a1a1a" stroke-width="1.3"/>
<line x1="884.54" y1="329.85" x2="886.08" y2="330.26" stroke="#1a1a1a" stroke-width="1.3"/>
<line x1="889.04" y1="321.94" x2="886.61" y2="331.02" stroke="#1a1a1a" stroke-width="1.7"/>
<circle cx="892.55" cy="327.75" r="3.7" stroke="#1a1a1a" stroke-width="1.5" fill="none"/>
<line x1="891.29" y1="325.13" x2="893.82" y2="330.37" stroke="#1a1a1a" stroke-width="1.3"/>
<line x1="890.42" y1="329.15" x2="892.19" y2="327.96" stroke="#1a1a1a" stroke-width="1.2"/>
<line x1="893.14" y1="327.49" x2="894.69" y2="326.36" stroke="#1a1a1a" stroke-width="1.2"/>
<line x1="889.66" y1="322.73" x2="891.01" y2="323.09" stroke="#1a1a1a" stroke-width="1.3"/>
<line x1="896.42" y1="324.54" x2="897.96" y2="324.96" stroke="#1a1a1a" stroke-width="1.3"/>
<line x1="887.53" y1="330.65" x2="888.89" y2="331.01" stroke="#1a1a1a" stroke-width="1.3"/>
<line x1="894.29" y1="332.46" x2="895.84" y2="332.88" stroke="#1a1a1a" stroke-width="1.3"/>
<path d="M627.2 262.6 l-0.9 5.6 l2.6 0.6 q1.6 -1.2 0.4 -2.6 q1.2 -1.4 -0.2 -3 z" stroke="#1a1a1a" stroke-width="0.8" fill="none" />
<path d="M742.6 293.4 l-0.9 5.6 l2.6 0.6 q1.6 -1.2 0.4 -2.6 q1.2 -1.4 -0.2 -3 z" stroke="#1a1a1a" stroke-width="0.8" fill="none" />
<path d="M857.5 324.2 l-0.9 5.6 l2.6 0.6 q1.6 -1.2 0.4 -2.6 q1.2 -1.4 -0.2 -3 z" stroke="#1a1a1a" stroke-width="0.8" fill="none" />
<path d="M755.4 307.2 l6.6 1.8 l-1.4 5 l-6.4 -1.7 z" stroke="#1a1a1a" stroke-width="0.9" fill="none" />
<circle cx="758.0" cy="310.59999999999997" r="0.6" stroke="#1a1a1a" stroke-width="0.3" fill="#1a1a1a"/>
<path d="M869.5 337.8 l6.6 1.8 l-1.4 5 l-6.4 -1.7 z" stroke="#1a1a1a" stroke-width="0.9" fill="none" />
<circle cx="872.1" cy="341.2" r="0.6" stroke="#1a1a1a" stroke-width="0.3" fill="#1a1a1a"/>
<path d="M268 126.6 L264 127.1 Q256.5 128.5 254.3 136 L247.5 161.5 L255.3 194.3" stroke="#1a1a1a" stroke-width="0.95" fill="none" />
<circle cx="279.8" cy="153.6" r="3.0" stroke="#1a1a1a" stroke-width="2.2" fill="none"/>
<circle cx="272.6" cy="155.4" r="0.45" stroke="#1a1a1a" stroke-width="0.2" fill="#1a1a1a"/>
<circle cx="264" cy="139" r="0.4" stroke="#888" stroke-width="0.2" fill="#888"/>
<circle cx="267.5" cy="142" r="0.4" stroke="#888" stroke-width="0.2" fill="#888"/>
<circle cx="271.5" cy="142.5" r="0.4" stroke="#888" stroke-width="0.2" fill="#888"/>
<circle cx="266" cy="145" r="0.4" stroke="#888" stroke-width="0.2" fill="#888"/>
<circle cx="269.5" cy="147" r="0.4" stroke="#888" stroke-width="0.2" fill="#888"/>
<circle cx="272" cy="149.5" r="0.4" stroke="#888" stroke-width="0.2" fill="#888"/>
<circle cx="263.5" cy="142.5" r="0.4" stroke="#888" stroke-width="0.2" fill="#888"/>
<circle cx="270" cy="145.5" r="0.4" stroke="#888" stroke-width="0.2" fill="#888"/>
<circle cx="300.8" cy="163.6" r="3.6" stroke="#1a1a1a" stroke-width="0.95" fill="none"/>
<circle cx="300.8" cy="163.6" r="1.3" stroke="#1a1a1a" stroke-width="0.7" fill="none"/>
<circle cx="300.8" cy="163.6" r="0.5" stroke="#1a1a1a" stroke-width="0.2" fill="#1a1a1a"/>
<path d="M327.8 159.7 Q319.5 158.6 318.4 167.5 Q318.2 174.5 324.5 176.5 L336.5 180.2 L337.6 182 L349.1 185.4 L352.3 172 Q353 166.5 346 164.6 Z" stroke="#1a1a1a" stroke-width="1.0" fill="none" />
<circle cx="323.4" cy="172.4" r="0.6" stroke="#1a1a1a" stroke-width="0.2" fill="#1a1a1a"/>
<circle cx="347.8" cy="169.1" r="0.6" stroke="#1a1a1a" stroke-width="0.2" fill="#1a1a1a"/>
<path d="M314.60 188.30 L316.50 179.90 L362.90 193.30" stroke="#1a1a1a" stroke-width="1.0" fill="none" />
<path d="M314.60 188.30 L320.40 190.20 L320.40 194.30" stroke="#1a1a1a" stroke-width="1.0" fill="none" />
<line x1="325" y1="191.5" x2="325" y2="194.3" stroke="#1a1a1a" stroke-width="0.8"/>
<line x1="329" y1="192.7" x2="329" y2="194.3" stroke="#1a1a1a" stroke-width="0.8"/>
<line x1="335.3" y1="144.3" x2="370.4" y2="171.4" stroke="#1a1a1a" stroke-width="0.8"/>
<circle cx="264.9" cy="187.7" r="3.9" stroke="#1a1a1a" stroke-width="1.0" fill="none"/>
<path d="M257.2 194.3 Q254.5 183.5 262 179.6 Q268 177.6 274.3 182.2 L277.5 185" stroke="#1a1a1a" stroke-width="0.95" fill="none" />
<path d="M275.2 194 L280.5 184.5 Q283.8 181 287.5 184 Q289.5 187.5 288.2 194.3" stroke="#1a1a1a" stroke-width="0.95" fill="none" />
<path d="M279.5 193.5 Q280.2 187.8 283.5 186.3 Q286.3 186.5 285.8 190.5 Q285.2 193.5 283.3 194" stroke="#1a1a1a" stroke-width="0.95" fill="none" />
<line x1="281" y1="190.2" x2="285.5" y2="188.3" stroke="#1a1a1a" stroke-width="0.6"/>
<path d="M289.5 193.6 Q291.5 188.4 296 187.7 L304.5 190 Q307 191.5 307.3 194.3" stroke="#1a1a1a" stroke-width="0.95" fill="none" />
<path d="M292 193.8 Q293.5 190.2 296.5 189.6 L303 191.5" stroke="#1a1a1a" stroke-width="0.6" fill="none" />
<path d="M252.5 185.5 Q240.5 189.5 237.6 196.5 Q236.5 200.5 238.5 203.5" stroke="#1a1a1a" stroke-width="0.95" fill="none" />
<path d="M253.5 188 Q243 192 240.3 197.8 Q239.8 200 240.8 202" stroke="#1a1a1a" stroke-width="0.95" fill="none" />
<path d="M402.09 172.75 L400.64 172.36 L399.19 171.97 L397.74 171.58 L396.29 171.19 L394.85 170.81 L393.40 170.42 L391.95 170.03 L390.50 169.64 L389.05 169.25 L387.60 168.86 L386.15 168.48 L384.70 168.09 L383.25 167.70 L381.34 167.27 L379.14 167.10 L376.95 167.28 L374.82 167.81 L372.79 168.68 L370.93 169.85 L369.28 171.31 L367.88 173.00 L366.77 174.90 L365.98 176.95 L365.52 179.10 L365.41 181.30 L365.64 183.49 L366.23 185.61 L367.14 187.61 L368.36 189.44 L369.86 191.06 L371.59 192.41 L373.51 193.47 L375.58 194.22 L377.05 194.61 L378.50 195.00 L379.95 195.39 L381.39 195.77 L382.84 196.16 L384.29 196.55 L385.74 196.94 L387.19 197.33 L388.64 197.72 L390.09 198.10 L391.54 198.49 L392.99 198.88 L394.43 199.27 L395.88 199.66" stroke="#1a1a1a" stroke-width="1.3" fill="none" />
<path d="M399.81 181.25 L398.36 180.86 L396.91 180.47 L395.47 180.08 L394.02 179.69 L392.57 179.31 L391.12 178.92 L389.67 178.53 L388.22 178.14 L386.77 177.75 L385.32 177.36 L383.87 176.98 L382.43 176.59 L380.98 176.20 L379.97 175.96 L379.18 175.90 L378.38 175.97 L377.61 176.16 L376.88 176.47 L376.20 176.90 L375.61 177.42 L375.10 178.04 L374.70 178.73 L374.41 179.47 L374.24 180.25 L374.20 181.05 L374.29 181.84 L374.50 182.61 L374.83 183.33 L375.27 183.99 L375.81 184.58 L376.44 185.07 L377.14 185.46 L377.89 185.73 L379.32 186.11 L380.77 186.50 L382.22 186.89 L383.67 187.27 L385.12 187.66 L386.57 188.05 L388.02 188.44 L389.47 188.83 L390.92 189.22 L392.36 189.60 L393.81 189.99 L395.26 190.38 L396.71 190.77 L398.16 191.16" stroke="#1a1a1a" stroke-width="1.3" fill="none" />
<circle cx="396.51" cy="175.81" r="3.4" stroke="#1a1a1a" stroke-width="1.4" fill="none"/>
<line x1="398.905882682578" y1="174.5850821303463" x2="394.11043081505267" y2="177.02713892457686" stroke="#1a1a1a" stroke-width="1.3"/>
<line x1="397.8327127639716" y1="177.81746613070862" x2="395.1836007336591" y2="173.79475492421454" stroke="#1a1a1a" stroke-width="1.1"/>
<line x1="393.1071091637078" y1="170.33958737980782" x2="390.8295015668056" y2="178.83973465115162" stroke="#1a1a1a" stroke-width="1.5"/>
<circle cx="387.43" cy="173.37" r="3.4" stroke="#1a1a1a" stroke-width="1.4" fill="none"/>
<line x1="389.8261799154607" y1="172.1521831063826" x2="385.0307280479354" y2="174.59423990061316" stroke="#1a1a1a" stroke-width="1.3"/>
<line x1="388.7530099968543" y1="175.38456710674492" x2="386.1038979665418" y2="171.36185590025084" stroke="#1a1a1a" stroke-width="1.1"/>
<line x1="384.02740639659055" y1="167.90668835584412" x2="381.7497987996884" y2="176.40683562718792" stroke="#1a1a1a" stroke-width="1.5"/>
<circle cx="378.26" cy="171.55" r="3.4" stroke="#1a1a1a" stroke-width="1.4" fill="none"/>
<line x1="380.07297735114287" y1="169.55637136783864" x2="376.4519737805581" y2="173.5373678689439" stroke="#1a1a1a" stroke-width="1.3"/>
<line x1="380.2130791596308" y1="172.95936585553008" x2="376.31187197207015" y2="170.13437338125246" stroke="#1a1a1a" stroke-width="1.1"/>
<line x1="371.4090416611494" y1="169.5096107106783" x2="376.3771890076628" y2="176.7730473589414" stroke="#1a1a1a" stroke-width="1.5"/>
<circle cx="370.82" cy="176.64" r="3.4" stroke="#1a1a1a" stroke-width="1.4" fill="none"/>
<line x1="370.1263373193933" y1="174.03642618175016" x2="371.51979378695137" y2="179.23433721148322" stroke="#1a1a1a" stroke-width="1.3"/>
<line x1="373.0655557724292" y1="175.75718034354475" x2="368.5805753339155" y2="177.51358304968863" stroke="#1a1a1a" stroke-width="1.1"/>
<line x1="365.40584515196554" y1="181.3016117882336" x2="374.20211780868317" y2="181.04551151747594" stroke="#1a1a1a" stroke-width="1.5"/>
<circle cx="371.09" cy="185.64" r="3.4" stroke="#1a1a1a" stroke-width="1.4" fill="none"/>
<line x1="368.5219809108541" y1="184.82681911116822" x2="373.6487599665359" y2="186.4627092401874" stroke="#1a1a1a" stroke-width="1.3"/>
<line x1="371.5580121176171" y1="183.28327950637637" x2="370.6127287597729" y2="188.00624884497924" stroke="#1a1a1a" stroke-width="1.1"/>
<line x1="372.0849309950602" y1="192.72437283981458" x2="376.6220764474856" y2="185.18419305790383" stroke="#1a1a1a" stroke-width="1.5"/>
<circle cx="378.77" cy="190.52" r="3.4" stroke="#1a1a1a" stroke-width="1.4" fill="none"/>
<line x1="376.36790364305375" y1="191.73623528886208" x2="381.1633555105791" y2="189.29417849463152" stroke="#1a1a1a" stroke-width="1.3"/>
<line x1="377.4410735616602" y1="188.50385128849976" x2="380.09018559197267" y2="192.52656249499384" stroke="#1a1a1a" stroke-width="1.1"/>
<line x1="382.166677161924" y1="195.98173003940053" x2="384.44428475882614" y2="187.48158276805674" stroke="#1a1a1a" stroke-width="1.5"/>
<circle cx="387.85" cy="192.95" r="3.4" stroke="#1a1a1a" stroke-width="1.4" fill="none"/>
<line x1="385.447606410171" y1="194.16913431282578" x2="390.2430582776963" y2="191.72707751859522" stroke="#1a1a1a" stroke-width="1.3"/>
<line x1="386.5207763287774" y1="190.93675031246346" x2="389.1698883590899" y2="194.95946151895754" stroke="#1a1a1a" stroke-width="1.1"/>
<line x1="391.2463799290412" y1="198.41462906336423" x2="393.52398752594337" y2="189.91448179202044" stroke="#1a1a1a" stroke-width="1.5"/>
<circle cx="396.93" cy="195.38" r="3.4" stroke="#1a1a1a" stroke-width="1.4" fill="none"/>
<line x1="394.52730917728826" y1="196.60203333678945" x2="399.3227610448136" y2="194.1599765425589" stroke="#1a1a1a" stroke-width="1.3"/>
<line x1="395.6004790958947" y1="193.36964933642713" x2="398.2495911262072" y2="197.3923605429212" stroke="#1a1a1a" stroke-width="1.1"/>
<line x1="400.32608269615844" y1="200.84752808732793" x2="402.6036902930606" y2="192.34738081598414" stroke="#1a1a1a" stroke-width="1.5"/>
<line x1="402.0902193481961" y1="172.74660449926128" x2="399.81261175129396" y2="181.24675177060507" stroke="#1a1a1a" stroke-width="1.2"/>
<path d="M398.8 176.5 L400.5 181.5" stroke="#1a1a1a" stroke-width="0.95" fill="none" />
<path d="M436.4 182.6 Q437.6 184.5 435.4 187.2 Q432 190.5 426 191.7" stroke="#1a1a1a" stroke-width="0.95" fill="none" />
<path d="M399.5 181.2 Q404 184.5 410 186.8 L426 191.7 L435 194.3" stroke="#1a1a1a" stroke-width="0.95" fill="none" />
<path d="M289.3 194.35 L245.8 194.35 L238 205.8 L233.4 212.9 L233.4 222.7 L230.8 274.6 L230.8 286.3 L234 287 L237.3 307.9 L289.3 307.9" stroke="#1a1a1a" stroke-width="0.95" fill="#fff" />
<path d="M236 221.4 L249 221.4 Q251.6 221.6 251.3 224.3 L247.7 253.2 L234.1 270.7 L231 274.6" stroke="#1a1a1a" stroke-width="0.95" fill="none" />
<line x1="235.5" y1="221.6" x2="251" y2="221.6" stroke="#1a1a1a" stroke-width="1.5"/>
<line x1="236.5" y1="222" x2="233.6" y2="270.5" stroke="#1a1a1a" stroke-width="0.8"/>
<line x1="230.8" y1="281.8" x2="289.3" y2="281.8" stroke="#1a1a1a" stroke-width="1.1"/>
<line x1="235.4" y1="290.2" x2="289.3" y2="290.2" stroke="#1a1a1a" stroke-width="0.8"/>
<line x1="236" y1="293.4" x2="289.3" y2="293.4" stroke="#1a1a1a" stroke-width="0.8"/>
<line x1="238" y1="302.5" x2="289.3" y2="302.5" stroke="#1a1a1a" stroke-width="0.8"/>
<path d="M232.20 287.00 L237.30 307.90 L245.20 307.90 L235.40 289.00" stroke="#1a1a1a" stroke-width="0.95" fill="none" />
<line x1="236.2" y1="293.4" x2="239" y2="304" stroke="#1a1a1a" stroke-width="0.6"/>
<path d="M289.3 194.3 L536.4 194.3 Q549 194.6 557.5 199.8 Q564 203.6 568.5 209.5 Q575.5 220 581.8 234.4 Q588 249 592.2 264.3 Q596 278.5 597.6 289.5 Q598.6 299 595 304 Q591.5 308.3 585 308.6 L289.3 308.6 Z" stroke="#1a1a1a" stroke-width="0.95" fill="#fff" />
<line x1="289.6" y1="194.3" x2="289.6" y2="308.6" stroke="#1a1a1a" stroke-width="1.6"/>
<rect x="311.4" y="224.4" width="29.6" height="50.9" rx="2.6" stroke="#1a1a1a" stroke-width="1.0" fill="none"/>
<rect x="319.2" y="229.4" width="14.6" height="9.9" rx="0" stroke="#1a1a1a" stroke-width="0.9" fill="none"/>
<circle cx="317.9" cy="248.2" r="1.1" stroke="#1a1a1a" stroke-width="0.6" fill="#1a1a1a"/>
<circle cx="325" cy="248.2" r="0.55" stroke="#1a1a1a" stroke-width="0.2" fill="#1a1a1a"/>
<circle cx="331.9" cy="248.2" r="1.5" stroke="#1a1a1a" stroke-width="0.8" fill="none"/>
<circle cx="337.7" cy="248.2" r="0.6" stroke="#1a1a1a" stroke-width="0.2" fill="#1a1a1a"/>
<circle cx="316.3" cy="253.2" r="1.3" stroke="#1a1a1a" stroke-width="0.8" fill="none"/>
<circle cx="321.75" cy="256.8" r="0.7" stroke="#1a1a1a" stroke-width="0.2" fill="#1a1a1a"/>
<circle cx="327.2" cy="254.9" r="0.7" stroke="#1a1a1a" stroke-width="0.2" fill="#1a1a1a"/>
<circle cx="332.5" cy="254.9" r="0.7" stroke="#1a1a1a" stroke-width="0.2" fill="#1a1a1a"/>
<circle cx="337.7" cy="253.6" r="0.7" stroke="#1a1a1a" stroke-width="0.2" fill="#1a1a1a"/>
<circle cx="337.7" cy="259.7" r="0.7" stroke="#1a1a1a" stroke-width="0.2" fill="#1a1a1a"/>
<circle cx="317.9" cy="261.6" r="0.7" stroke="#1a1a1a" stroke-width="0.2" fill="#1a1a1a"/>
<circle cx="333.8" cy="264.5" r="0.7" stroke="#1a1a1a" stroke-width="0.2" fill="#1a1a1a"/>
<circle cx="337.7" cy="265.1" r="0.7" stroke="#1a1a1a" stroke-width="0.2" fill="#1a1a1a"/>
<circle cx="324.6" cy="267.3" r="0.7" stroke="#1a1a1a" stroke-width="0.2" fill="#1a1a1a"/>
<circle cx="337.7" cy="270.7" r="0.7" stroke="#1a1a1a" stroke-width="0.2" fill="#1a1a1a"/>
<rect x="444.5" y="226" width="1.2" height="0.5" rx="0" stroke="#999" stroke-width="0.2" fill="#999"/>
<rect x="446.5" y="226" width="1.2" height="0.5" rx="0" stroke="#999" stroke-width="0.2" fill="#999"/>
<path d="M902.02 325.42 L904.18 327.03 L909.13 339.44 L903.24 336.31" stroke="#1a1a1a" stroke-width="0.95" fill="none" />
<path d="M891.00 335.50 L918.80 339.90" stroke="#1a1a1a" stroke-width="0.95" fill="none" />
<path d="M891.00 335.50 L891.00 340.30 L895.60 341.60 L895.60 342.60" stroke="#1a1a1a" stroke-width="0.95" fill="none" />
<path d="M895.6 342.2 Q903 341.8 907 340.9 Q912 340.3 918.2 342.8" stroke="#1a1a1a" stroke-width="0.95" fill="none" />
<circle cx="923.05" cy="342.2" r="4.3" stroke="#1a1a1a" stroke-width="1.1" fill="#fff"/>
<path d="M921.8 338 Q922.5 333.2 926.2 333.2 Q928.5 333.6 928.4 336.5 Q930.8 340.5 929.4 345 Q927.2 348.8 922.5 348.7" stroke="#1a1a1a" stroke-width="0.95" fill="none" />
<circle cx="926.3" cy="334.8" r="1.1" stroke="#1a1a1a" stroke-width="0.8" fill="none"/>
<path d="M889.3 344.6 L889.3 348 Q889.5 349.6 891 350.3 L948.5 377.6 Q954.5 379.5 957 374.5 L961 364.2" stroke="#1a1a1a" stroke-width="0.95" fill="none" />
<path d="M900.6 347.2 q0.6 4.2 4 4.6 q3.2 -0.2 4.6 -2.4" stroke="#1a1a1a" stroke-width="0.95" fill="none" />
<path d="M916.2 351.4 q0.6 4.2 4 4.6 q3.2 -0.2 4.6 -2.4" stroke="#1a1a1a" stroke-width="0.95" fill="none" />
<path d="M935.4 356.6 q0.6 4.2 4 4.6 q3.2 -0.2 4.6 -2.4" stroke="#1a1a1a" stroke-width="0.95" fill="none" />
<circle cx="896.5" cy="348.6" r="0.5" stroke="#1a1a1a" stroke-width="0.2" fill="#1a1a1a"/>
<circle cx="914.2" cy="353.4" r="0.5" stroke="#1a1a1a" stroke-width="0.2" fill="#1a1a1a"/>
<circle cx="932" cy="358.1" r="0.5" stroke="#1a1a1a" stroke-width="0.2" fill="#1a1a1a"/>
<circle cx="956.4" cy="364.8" r="0.5" stroke="#1a1a1a" stroke-width="0.2" fill="#1a1a1a"/>
<path d="M974.40 316.60 L972.40 324.80" stroke="#1a1a1a" stroke-width="0.95" fill="none" />
<path d="M987.80 320.60 L985.60 328.60" stroke="#1a1a1a" stroke-width="0.95" fill="none" />
<path d="M969.20 337.30 L962.60 360.60" stroke="#1a1a1a" stroke-width="0.95" fill="none" />
<path d="M981.70 340.40 L975.80 362.60" stroke="#1a1a1a" stroke-width="0.95" fill="none" />
<path d="M984.10 341.10 L978.20 363.40" stroke="#1a1a1a" stroke-width="0.95" fill="none" />
<path d="M974.50 316.30 L988.90 320.20" stroke="#1a1a1a" stroke-width="1.5" fill="none" />
<path d="M988.9 319.9 Q991 320.8 990.6 322.8 L989.4 327" stroke="#1a1a1a" stroke-width="0.95" fill="none" />
<rect x="973.5" y="323.3" width="2.4" height="1.8" rx="0" stroke="#1a1a1a" stroke-width="0.4" fill="#1a1a1a"/>
<rect x="981.6" y="325.6" width="2.2" height="1.8" rx="0" stroke="#1a1a1a" stroke-width="0.4" fill="#1a1a1a"/>
<path d="M989.70 331.00 L1025.20 340.40 L1022.60 351.20 L1018.60 350.20" stroke="#1a1a1a" stroke-width="0.95" fill="none" />
<path d="M969.00 337.10 L986.60 341.10" stroke="#1a1a1a" stroke-width="0.95" fill="none" />
<path d="M992.50 342.80 L1007.80 346.70" stroke="#1a1a1a" stroke-width="0.95" fill="none" />
<path d="M996 326.6 L1003.4 326.6 Q1005.6 329 1004.8 332.6 L997.5 332" stroke="#1a1a1a" stroke-width="0.95" fill="none" />
<path d="M1003.4 326.6 Q1001.6 329.4 1002.6 332.6" stroke="#1a1a1a" stroke-width="1.2" fill="none" />
<path d="M1005 329 L1011 330.8 L1011.2 332.8" stroke="#1a1a1a" stroke-width="0.95" fill="none" />
<path d="M991.78 326.77 L985.88 347.07 A1.9 1.9 0 0 0 989.52 348.13 L995.42 327.83 A1.9 1.9 0 0 0 991.78 326.77 Z" stroke="#1a1a1a" stroke-width="1.3" fill="#fff" />
<circle cx="987.4" cy="347.6" r="1.5" stroke="#1a1a1a" stroke-width="0.6" fill="#1a1a1a"/>
<path d="M990.04 348.23 L988.74 354.83 A1.9 1.9 0 0 0 992.46 355.57 L993.76 348.97 A1.9 1.9 0 0 0 990.04 348.23 Z" stroke="#1a1a1a" stroke-width="1.0" fill="#fff" />
<path d="M996.70 345.30 L992.50 360.60" stroke="#1a1a1a" stroke-width="0.95" fill="none" />
<path d="M999.40 346.00 L996.00 361.30" stroke="#1a1a1a" stroke-width="0.95" fill="none" />
<path d="M1007.10 347.40 L1003.60 362.60" stroke="#1a1a1a" stroke-width="0.95" fill="none" />
<path d="M1004.2 362.5 L1008.6 343 Q1009 340.7 1011.2 340.6 L1016.5 341.5 Q1018.8 342.3 1018.6 345 L1018.5 349.4" stroke="#1a1a1a" stroke-width="0.95" fill="none" />
<circle cx="1021.4" cy="346.4" r="0.55" stroke="#1a1a1a" stroke-width="0.2" fill="#1a1a1a"/>
<circle cx="1012.4" cy="354.4" r="3.1" stroke="#1a1a1a" stroke-width="1.5" fill="none"/>
<circle cx="1012.7" cy="353.8" r="1.3" stroke="#1a1a1a" stroke-width="1.0" fill="none"/>
<rect x="1008.6" y="356.4" width="6.8" height="2.4" rx="0" stroke="#1a1a1a" stroke-width="0.6" fill="#1a1a1a"/>
<circle cx="967.2" cy="353.2" r="1.0" stroke="#1a1a1a" stroke-width="0.7" fill="none"/>
<circle cx="982.8" cy="355" r="1.0" stroke="#1a1a1a" stroke-width="0.7" fill="none"/>
<circle cx="991.1" cy="358.1" r="1.0" stroke="#1a1a1a" stroke-width="0.7" fill="none"/>
<circle cx="975.8" cy="356" r="0.9" stroke="#1a1a1a" stroke-width="0.7" fill="none"/>
<path d="M973.40 357.00 L975.10 353.60 L977.90 353.60 L978.60 351.50" stroke="#1a1a1a" stroke-width="0.9" fill="none" />
<circle cx="985.6" cy="339.5" r="0.5" stroke="#1a1a1a" stroke-width="0.2" fill="#1a1a1a"/>
<circle cx="982.4" cy="351" r="0.5" stroke="#1a1a1a" stroke-width="0.2" fill="#1a1a1a"/>
<circle cx="998.6" cy="355" r="0.5" stroke="#1a1a1a" stroke-width="0.2" fill="#1a1a1a"/>
<circle cx="996.7" cy="360.6" r="0.5" stroke="#1a1a1a" stroke-width="0.2" fill="#1a1a1a"/>
<path d="M955.00 360.20 L977.20 366.20 L993.90 367.20" stroke="#1a1a1a" stroke-width="2.2" fill="none" />
<path d="M993.90 364.20 L993.90 367.20" stroke="#1a1a1a" stroke-width="1.2" fill="none" />
<path d="M993.90 364.60 L1017.50 370.50 L1019.20 363.70" stroke="#1a1a1a" stroke-width="1.1" fill="none" />
<rect x="963" y="362.20000000000005" width="2.6" height="1.4" rx="0" stroke="#1a1a1a" stroke-width="0.5" fill="#1a1a1a"/>
<rect x="971" y="363.8" width="2.6" height="1.4" rx="0" stroke="#1a1a1a" stroke-width="0.5" fill="#1a1a1a"/>
<rect x="976" y="364.8" width="2.6" height="1.4" rx="0" stroke="#1a1a1a" stroke-width="0.5" fill="#1a1a1a"/>
<rect x="986" y="366.8" width="2.6" height="1.4" rx="0" stroke="#1a1a1a" stroke-width="0.5" fill="#1a1a1a"/>
<rect x="990" y="367.6" width="2.6" height="1.4" rx="0" stroke="#1a1a1a" stroke-width="0.5" fill="#1a1a1a"/>
<path d="M1011.3 333.6 L1011.8 331.6 Q1013 329.8 1016 329.6 Q1019 328.6 1022.5 329 L1041 334.3 L1054.2 345 A7.6 7.6 0 0 1 1052.4 358.2 L1036 360.2 L1020.3 362.6 L1019.2 363.7" stroke="#1a1a1a" stroke-width="0.95" fill="none" />
<circle cx="1049.1" cy="351.4" r="4.6" stroke="#1a1a1a" stroke-width="1.0" fill="none"/>
<circle cx="1049.1" cy="351.4" r="3.0" stroke="#1a1a1a" stroke-width="0.8" fill="none"/>
<circle cx="1049.1" cy="351.4" r="1.6" stroke="#1a1a1a" stroke-width="0.8" fill="none"/>
<circle cx="1031.3" cy="342.9" r="0.6" stroke="#1a1a1a" stroke-width="0.2" fill="#1a1a1a"/>
<circle cx="1035.6" cy="350" r="0.6" stroke="#1a1a1a" stroke-width="0.2" fill="#1a1a1a"/>
<circle cx="1030.3" cy="351.4" r="0.6" stroke="#1a1a1a" stroke-width="0.2" fill="#1a1a1a"/>
<path d="M1050.7 340.6 L1066.5 320 Q1068.5 316.8 1072 316.2" stroke="#1a1a1a" stroke-width="0.95" fill="none" />
<path d="M1052.2 358.6 L1052.4 371.5 Q1052.8 376.5 1056.3 376.5 Q1058.5 376.2 1060 374 L1077.5 354.5" stroke="#1a1a1a" stroke-width="0.95" fill="none" />
<path d="M1027.50 361.60 L1050.70 373.00" stroke="#1a1a1a" stroke-width="0.95" fill="none" />
<path d="M1037.00 359.90 L1052.00 367.50" stroke="#1a1a1a" stroke-width="0.95" fill="none" />
<circle cx="1055" cy="365" r="0.9" stroke="#1a1a1a" stroke-width="0.7" fill="none"/>
<circle cx="1055.9" cy="371.6" r="1.2" stroke="#1a1a1a" stroke-width="0.7" fill="none"/>
<line x1="1055.1" y1="365.8" x2="1055.7" y2="370.4" stroke="#1a1a1a" stroke-width="0.7"/>
<path d="M1068 316.8 Q1066.5 321.5 1069.5 324.2 Q1073 325.8 1075.8 322.5 L1078 317.5 Q1077 314.8 1074.5 315.2 Z" stroke="#1a1a1a" stroke-width="1.0" fill="none" />
<circle cx="1071.9" cy="320.4" r="2.0" stroke="#1a1a1a" stroke-width="0.8" fill="none"/>
<path d="M1069.5 345 Q1067.6 345.6 1068 347.5 Q1070.5 352.8 1075.5 353.3 Q1079.2 352.2 1078.7 347.8 Q1077.2 343.8 1073 343.6 Z" stroke="#1a1a1a" stroke-width="1.0" fill="none" />
<circle cx="1075" cy="348.5" r="2.1" stroke="#1a1a1a" stroke-width="0.8" fill="none"/>
<circle cx="1069.2" cy="346.6" r="1.0" stroke="#1a1a1a" stroke-width="0.6" fill="#1a1a1a"/>
<path d="M1072 316.2 Q1075.5 311.4 1079.4 312.2 L1224 351.2 Q1228.5 353.5 1230 357.5 L1231.6 361.4" stroke="#1a1a1a" stroke-width="0.95" fill="none" />
<path d="M1074.60 326.20 L1224.00 366.00" stroke="#1a1a1a" stroke-width="0.95" fill="none" />
<path d="M1074.6 326.2 Q1071.5 334 1078.3 344.6" stroke="#1a1a1a" stroke-width="0.95" fill="none" />
<path d="M1096.30 316.70 L1093.30 331.40" stroke="#1a1a1a" stroke-width="0.95" fill="none" />
<path d="M1199.50 344.50 L1197.00 358.80" stroke="#1a1a1a" stroke-width="0.95" fill="none" />
<rect x="1096.6" y="314.6" width="3" height="2" rx="0" stroke="#1a1a1a" stroke-width="0.5" fill="#1a1a1a"/>
<rect x="1092" y="331.2" width="3.6" height="2.2" rx="0" stroke="#1a1a1a" stroke-width="0.5" fill="#1a1a1a"/>
<circle cx="1100.5" cy="325" r="0.4" stroke="#1a1a1a" stroke-width="0.2" fill="#1a1a1a"/>
<circle cx="1194.5" cy="349.8" r="0.4" stroke="#1a1a1a" stroke-width="0.2" fill="#1a1a1a"/>
<rect x="1183.6" y="337.2" width="3" height="2" rx="0" stroke="#1a1a1a" stroke-width="0.5" fill="#1a1a1a"/>
<path d="M1078.10 344.70 L1229.10 385.00" stroke="#1a1a1a" stroke-width="0.95" fill="none" />
<path d="M1076.00 352.80 L1228.20 393.40" stroke="#1a1a1a" stroke-width="0.95" fill="none" />
<path d="M1078.30 345.20 L1102.20 349.20" stroke="#1a1a1a" stroke-width="0.95" fill="none" />
<path d="M1102.20 347.60 L1104.70 347.80 L1104.70 351.60 L1102.20 351.40 Z" stroke="#1a1a1a" stroke-width="0.95" fill="none" />
<path d="M1104.7 347.8 Q1140 347.6 1174 354" stroke="#1a1a1a" stroke-width="0.95" fill="none" />
<path d="M1104.7 351.6 Q1140 356.5 1176.5 363.3" stroke="#1a1a1a" stroke-width="0.95" fill="none" />
<path d="M1174 352.6 Q1172.6 360 1177 363.4" stroke="#1a1a1a" stroke-width="0.95" fill="none" />
<path d="M1177 363.4 Q1180.5 365.8 1183 363.8 L1186 357.5 Q1185.5 355.5 1183.5 355.5" stroke="#1a1a1a" stroke-width="0.95" fill="none" />
<circle cx="1179.4" cy="360.4" r="1.6" stroke="#1a1a1a" stroke-width="0.8" fill="none"/>
<circle cx="1184" cy="356.8" r="1.2" stroke="#1a1a1a" stroke-width="0.7" fill="none"/>
<circle cx="1181" cy="355.3" r="0.9" stroke="#1a1a1a" stroke-width="0.6" fill="#1a1a1a"/>
<path d="M1219.5 353.2 L1208.5 350.3 Q1203.5 349.4 1201.5 353.8 Q1200.6 357.6 1204.5 359.8 L1210 361.6" stroke="#1a1a1a" stroke-width="0.95" fill="none" />
<path d="M1208.40 355.50 L1207.10 365.60 L1216.40 366.40 L1218.50 356.30" stroke="#1a1a1a" stroke-width="1.1" fill="none" />
<path d="M1207.50 362.30 L1216.80 363.30" stroke="#1a1a1a" stroke-width="1.3" fill="none" />
<rect x="1191.3" y="357.3" width="4" height="3.6" rx="0" stroke="#1a1a1a" stroke-width="0.7" fill="none"/>
<path d="M1227 355.4 Q1224.5 357.5 1224.8 362.5 Q1225.5 366.5 1229 366.8 Q1232.5 366 1232 361.5 Q1230.5 356.5 1227 355.4 Z" stroke="#1a1a1a" stroke-width="1.1" fill="none" />
<circle cx="1227.9" cy="363" r="1.5" stroke="#1a1a1a" stroke-width="0.8" fill="none"/>
<path d="M1229.1 385 Q1226.4 388.6 1228.4 392.4 Q1232 395.5 1236.3 394.2 Q1239.6 392 1238.6 389.5 Q1235 386 1229.1 385 Z" stroke="#1a1a1a" stroke-width="1.0" fill="none" />
<circle cx="1232.5" cy="390.4" r="2.0" stroke="#1a1a1a" stroke-width="0.7" fill="none"/>
<circle cx="1237.2" cy="391.8" r="1.3" stroke="#1a1a1a" stroke-width="0.8" fill="none"/>
<path d="M1232.00 360.50 L1244.30 360.50" stroke="#1a1a1a" stroke-width="0.95" fill="none" />
<path d="M1225.5 366.8 Q1227 372 1229.1 379.1 L1228.5 385" stroke="#1a1a1a" stroke-width="0.95" fill="none" />
<path d="M1244.3 360.5 L1243.4 379.1 L1240.5 380.6 Q1238.5 383 1237.8 387.5" stroke="#1a1a1a" stroke-width="0.95" fill="none" />
<path d="M1232.6 368.4 Q1236 367.2 1239.6 368.6 Q1240.6 370 1239.8 372.2 L1237 376 Q1235.8 377 1234.6 376 L1232.2 371.2 Q1231.6 369.4 1232.6 368.4 Z" stroke="#1a1a1a" stroke-width="0.95" fill="none" />
<path d="M1244.1 367.6 Q1241.6 369.8 1243.9 372.2" stroke="#1a1a1a" stroke-width="0.95" fill="none" />
<rect x="1244.3" y="358.4" width="2.5" height="22.4" rx="0" stroke="#1a1a1a" stroke-width="0.8" fill="none"/>
<path d="M1246.8 356.7 L1267.9 356.7 L1275.5 362.2 L1275.5 377.4 L1269.6 382.5 L1248.5 380.8 Z" stroke="#1a1a1a" stroke-width="0.95" fill="none" />
<line x1="1247.6" y1="357" x2="1263.7" y2="357" stroke="#1a1a1a" stroke-width="1.6"/>
<line x1="1248.5" y1="380.6" x2="1264" y2="381.6" stroke="#1a1a1a" stroke-width="1.4"/>
<rect x="1247.6" y="359.6" width="4.4" height="3.4" rx="0" stroke="#1a1a1a" stroke-width="0.8" fill="none"/>
<path d="M1252 359.6 l3.4 1.7 l-3.4 1.7" stroke="#1a1a1a" stroke-width="0.8" fill="none" />
<line x1="1252.8" y1="359.6" x2="1252.8" y2="363.0" stroke="#1a1a1a" stroke-width="0.6"/>
<rect x="1247.6" y="375.7" width="4.4" height="3.4" rx="0" stroke="#1a1a1a" stroke-width="0.8" fill="none"/>
<path d="M1252 375.7 l3.4 1.7 l-3.4 1.7" stroke="#1a1a1a" stroke-width="0.8" fill="none" />
<line x1="1252.8" y1="375.7" x2="1252.8" y2="379.09999999999997" stroke="#1a1a1a" stroke-width="0.6"/>
<line x1="1262" y1="358" x2="1262" y2="381" stroke="#1a1a1a" stroke-width="0.8"/>
<line x1="1267.9" y1="357" x2="1267.9" y2="382" stroke="#1a1a1a" stroke-width="0.7"/>
<line x1="1264.4" y1="358" x2="1264.4" y2="381.4" stroke="#1a1a1a" stroke-width="0.5"/>
<rect x="1262.6" y="361.5" width="1.3" height="1.1" rx="0" stroke="#1a1a1a" stroke-width="0.3" fill="#1a1a1a"/>
<rect x="1265.4" y="362.5" width="1.3" height="1.1" rx="0" stroke="#1a1a1a" stroke-width="0.3" fill="#1a1a1a"/>
<rect x="1262.6" y="365.5" width="1.3" height="1.1" rx="0" stroke="#1a1a1a" stroke-width="0.3" fill="#1a1a1a"/>
<rect x="1265.4" y="366.5" width="1.3" height="1.1" rx="0" stroke="#1a1a1a" stroke-width="0.3" fill="#1a1a1a"/>
<rect x="1262.6" y="370" width="1.3" height="1.1" rx="0" stroke="#1a1a1a" stroke-width="0.3" fill="#1a1a1a"/>
<rect x="1265.4" y="371" width="1.3" height="1.1" rx="0" stroke="#1a1a1a" stroke-width="0.3" fill="#1a1a1a"/>
<rect x="1262.6" y="374" width="1.3" height="1.1" rx="0" stroke="#1a1a1a" stroke-width="0.3" fill="#1a1a1a"/>
<rect x="1265.4" y="375" width="1.3" height="1.1" rx="0" stroke="#1a1a1a" stroke-width="0.3" fill="#1a1a1a"/>
<rect x="1262.6" y="377.5" width="1.3" height="1.1" rx="0" stroke="#1a1a1a" stroke-width="0.3" fill="#1a1a1a"/>
<rect x="1265.4" y="378.5" width="1.3" height="1.1" rx="0" stroke="#1a1a1a" stroke-width="0.3" fill="#1a1a1a"/>
<rect x="1251" y="383.3" width="7.6" height="4" rx="0" stroke="#1a1a1a" stroke-width="0.8" fill="none"/>
<line x1="1252.5" y1="385" x2="1257.5" y2="385" stroke="#1a1a1a" stroke-width="1.2"/>
<path d="M1254 356.7 L1254.4 353.3 L1267.1 349.1 L1286.5 349.1" stroke="#1a1a1a" stroke-width="0.95" fill="none" />
<path d="M1269.60 382.50 L1286.50 382.50" stroke="#1a1a1a" stroke-width="0.95" fill="none" />
<path d="M1280.27 356.00 L1283.97 353.00 A0.9 0.9 0 0 0 1282.83 351.60 L1279.13 354.60 A0.9 0.9 0 0 0 1280.27 356.00 Z" stroke="#1a1a1a" stroke-width="0.9" fill="none" />
<circle cx="1279.4" cy="355.6" r="1.2" stroke="#1a1a1a" stroke-width="0.8" fill="none"/>
<path d="M1279.11 378.88 L1282.81 382.08 A0.9 0.9 0 0 0 1283.99 380.72 L1280.29 377.52 A0.9 0.9 0 0 0 1279.11 378.88 Z" stroke="#1a1a1a" stroke-width="0.9" fill="none" />
<circle cx="1279.4" cy="377.8" r="1.2" stroke="#1a1a1a" stroke-width="0.8" fill="none"/>
<path d="M1286.5 357 L1280.7 364.5 L1280.7 371 L1286.5 378" stroke="#1a1a1a" stroke-width="0.95" fill="none" />
<path d="M1286 360.5 L1282.6 365 L1282.6 370.3 L1286 374.5" stroke="#1a1a1a" stroke-width="0.6" fill="none" />
<line x1="1281" y1="367.5" x2="1286" y2="372" stroke="#1a1a1a" stroke-width="0.5"/>
<line x1="1283" y1="362" x2="1285.6" y2="367" stroke="#1a1a1a" stroke-width="0.5"/>
<path d="M1286.5 324 L1267.1 324 L1267.1 346.2" stroke="#1a1a1a" stroke-width="0.95" fill="none" />
<line x1="1267.1" y1="329.5" x2="1267.1" y2="346.2" stroke="#1a1a1a" stroke-width="1.8"/>
<line x1="1272.1" y1="323.8" x2="1284" y2="323.8" stroke="#1a1a1a" stroke-width="1.8"/>
<line x1="1272.1" y1="331.4" x2="1286.5" y2="331.4" stroke="#1a1a1a" stroke-width="1.0"/>
<rect x="1284" y="322.3" width="10" height="2.4" rx="0" stroke="#1a1a1a" stroke-width="0.5" fill="#1a1a1a"/>
<path d="M1286.4 323.8 L1286.4 397.6 L1338.1 397.6" stroke="#1a1a1a" stroke-width="1.0" fill="none" />
<path d="M1294.3 323.8 L1294.3 388 L1292.5 388.5 L1292.5 394.4 L1287 394.6" stroke="#1a1a1a" stroke-width="0.95" fill="none" />
<circle cx="1291" cy="336.3" r="0.5" stroke="#1a1a1a" stroke-width="0.2" fill="#1a1a1a"/>
<circle cx="1290" cy="347.2" r="1.0" stroke="#1a1a1a" stroke-width="0.7" fill="none"/>
<circle cx="1290" cy="352.0" r="0.8" stroke="#1a1a1a" stroke-width="0.7" fill="none"/>
<line x1="1290" y1="348.2" x2="1290" y2="351.3" stroke="#1a1a1a" stroke-width="0.9"/>
<circle cx="1290" cy="376.9" r="1.0" stroke="#1a1a1a" stroke-width="0.7" fill="none"/>
<circle cx="1290" cy="381.7" r="0.8" stroke="#1a1a1a" stroke-width="0.7" fill="none"/>
<line x1="1290" y1="377.9" x2="1290" y2="381.0" stroke="#1a1a1a" stroke-width="0.9"/>
<line x1="1296.3" y1="257.7" x2="1296.3" y2="388" stroke="#444" stroke-width="0.9"/>
<line x1="1299.9" y1="257.7" x2="1299.9" y2="388" stroke="#444" stroke-width="0.9"/>
<line x1="1307.4" y1="261" x2="1307.4" y2="388" stroke="#444" stroke-width="0.9"/>
<line x1="1311.4" y1="261" x2="1311.4" y2="388" stroke="#444" stroke-width="0.9"/>
<line x1="1367.3" y1="261" x2="1367.3" y2="388" stroke="#444" stroke-width="0.9"/>
<line x1="1371.3" y1="261" x2="1371.3" y2="388" stroke="#444" stroke-width="0.9"/>
<line x1="1378.6" y1="257.7" x2="1378.6" y2="388" stroke="#666" stroke-width="0.9"/>
<line x1="1382.9" y1="257.7" x2="1382.9" y2="388" stroke="#666" stroke-width="0.9"/>
<rect x="1296.3" y="257.5" width="86.6" height="3.7" rx="0.8" stroke="#444" stroke-width="0.8" fill="#fff"/>
<line x1="1297" y1="261.2" x2="1382.5" y2="261.2" stroke="#1a1a1a" stroke-width="1.2"/>
<rect x="1296.3" y="321.5" width="86.6" height="3.6" rx="0" stroke="#444" stroke-width="0.8" fill="#fff"/>
<line x1="1296.3" y1="321.5" x2="1382.9" y2="321.5" stroke="#1a1a1a" stroke-width="1.2"/>
<rect x="1295.8" y="384.5" width="87.1" height="3.6" rx="0" stroke="#444" stroke-width="0.8" fill="#fff"/>
<line x1="1296" y1="384.5" x2="1382.9" y2="384.5" stroke="#1a1a1a" stroke-width="1.1"/>
<rect x="1307.4" y="261.8" width="4.0" height="123.5" rx="0" stroke="#444" stroke-width="0.0" fill="#fff"/>
<line x1="1307.4" y1="261.8" x2="1307.4" y2="385.3" stroke="#444" stroke-width="0.9"/>
<line x1="1311.4" y1="261.8" x2="1311.4" y2="385.3" stroke="#444" stroke-width="0.9"/>
<rect x="1367.3" y="261.8" width="4.0" height="123.5" rx="0" stroke="#444" stroke-width="0.0" fill="#fff"/>
<line x1="1367.3" y1="261.8" x2="1367.3" y2="385.3" stroke="#444" stroke-width="0.9"/>
<line x1="1371.3" y1="261.8" x2="1371.3" y2="385.3" stroke="#444" stroke-width="0.9"/>
<line x1="1305" y1="317.7" x2="1376" y2="317.7" stroke="#777" stroke-width="0.8"/>
<line x1="1311.5" y1="320.2" x2="1367.3" y2="320.2" stroke="#1a1a1a" stroke-width="1.4"/>
<rect x="1313" y="318.3" width="3.4" height="2.2" rx="0" stroke="#1a1a1a" stroke-width="0.4" fill="#1a1a1a"/>
<rect x="1364" y="318.3" width="3.4" height="2.2" rx="0" stroke="#1a1a1a" stroke-width="0.4" fill="#1a1a1a"/>
<line x1="1299.9" y1="363.4" x2="1378.6" y2="363.4" stroke="#444" stroke-width="0.9"/>
<line x1="1304.4" y1="325" x2="1304.4" y2="363.4" stroke="#888" stroke-width="0.7"/>
<path d="M1301.5 325.2 L1306.8 332.5 M1303.5 325.2 L1307.2 330" stroke="#444" stroke-width="0.8" fill="none" />
<path d="M1377 325.2 L1371.8 332.5 M1375 325.2 L1371.6 330 M1372 332 L1371.8 337" stroke="#444" stroke-width="0.8" fill="none" />
<rect x="1377.4" y="315" width="9" height="2.6" rx="1.3" stroke="#1a1a1a" stroke-width="0.9" fill="#fff"/>
<rect x="1296.9" y="307.5" width="2.3" height="12.5" rx="0" stroke="#666" stroke-width="0.5" fill="#aaa"/>
<rect x="1379.4" y="326.6" width="2.4" height="10.6" rx="0" stroke="#777" stroke-width="0.5" fill="#bbb"/>
<rect x="1296.3" y="324.8" width="4" height="2.2" rx="1.1" stroke="#1a1a1a" stroke-width="0.8" fill="none"/>
<path d="M1335.6 388.3 L1341.6 396.1 L1355.2 396.1 L1361.8 388.3" stroke="#1a1a1a" stroke-width="0.95" fill="none" />
<rect x="1338.1" y="397.1" width="11.6" height="4.5" rx="0" stroke="#1a1a1a" stroke-width="0.95" fill="none"/>
<line x1="1339.5" y1="390.5" x2="1340.8" y2="394" stroke="#1a1a1a" stroke-width="1.1"/>
<line x1="1356.5" y1="390.5" x2="1355.5" y2="394" stroke="#1a1a1a" stroke-width="1.1"/>
<path d="M1296.3 305 L1268.2 305 Q1254.6 303.5 1254.6 290.4 L1254.6 254.2 Q1255.5 241 1270.2 240.1 L1288.3 240.1 Q1299 241 1299.9 253.2 L1299.9 257.5" stroke="#444" stroke-width="1.0" fill="none" />
<path d="M1296.3 301.6 L1268.6 301.6 Q1258 300.4 1258 289.8 L1258 254.6 Q1258.8 244.3 1270.4 243.6 L1287.8 243.6 Q1295.6 244.3 1296.4 253.4 L1296.4 257.5" stroke="#444" stroke-width="1.0" fill="none" />
<path d="M1296.3 301.6 Q1298 303.3 1296.3 305" stroke="#444" stroke-width="0.9" fill="none" />
<path d="M1258.6 253.5 L1267.6 244.1 L1283.2 244.1 M1291.3 251.1 L1291.3 257.6 L1296.3 257.6" stroke="#1a1a1a" stroke-width="0.95" fill="none" />
<line x1="1258" y1="261.7" x2="1295.3" y2="261.7" stroke="#444" stroke-width="1.0"/>
<line x1="1283.2" y1="244.1" x2="1294.5" y2="251.5" stroke="#1a1a1a" stroke-width="2.2"/>
<line x1="1287" y1="246.8" x2="1289.5" y2="250.5" stroke="#1a1a1a" stroke-width="1.0"/>
<rect x="1268.2" y="250.1" width="16.6" height="7.6" rx="3.8" stroke="#1a1a1a" stroke-width="0.9" fill="none"/>
<path d="M1261 239.3 L1263 237 L1266.5 239.6 L1279 239.8" stroke="#1a1a1a" stroke-width="1.0" fill="none" />
<path d="M1268.7 302 L1268.7 284.6 Q1268.9 282.4 1271 282.3 L1289.5 282.3 Q1291.7 282.4 1291.8 284.6 L1291.8 302" stroke="#444" stroke-width="1.0" fill="none" />
<line x1="1272.2" y1="283" x2="1272.2" y2="301.6" stroke="#444" stroke-width="0.8"/>
<line x1="1288.8" y1="283" x2="1288.8" y2="301.6" stroke="#444" stroke-width="0.8"/>
<path d="M322.5 731 L322.5 717.8 L328.5 715.6 L427.7 715.6 L433.7 717.8 L433.7 730.5" stroke="#1a1a1a" stroke-width="0.9" fill="none" />
<line x1="323" y1="717.6" x2="433.2" y2="717.6" stroke="#888" stroke-width="0.6"/>
<path d="M297.5 731 Q285 733 275 738 Q264 745 257 753.5 Q249.5 764 245.6 775 Q240.5 790 238.2 806 Q235.6 830 235 862.4" stroke="#1a1a1a" stroke-width="1.25" fill="none" />
<path d="M258.6 754.5 Q251 765 247.2 776 Q242.3 791 240.1 806.5 Q237.6 830 236.9 862.4" stroke="#1a1a1a" stroke-width="1.0" fill="none" />
<path d="M297.5 731 Q360 729.4 432 729.6 Q455 730.4 475 733.6 Q490 736.2 500 738.8 L535 747.2 L575 756.6 Q590 761 600 766.6 Q610 773 615.4 777.5 L615.4 818.8" stroke="#1a1a1a" stroke-width="0.9" fill="none" />
<line x1="297.3" y1="731" x2="297.3" y2="819" stroke="#1a1a1a" stroke-width="0.8"/>
<path d="M625.3 715.4 L724 715.4 L730 717.6 L730 755.4 L724 757.7 L625.3 757.7 L619.3 755.4 L619.3 717.6 Z" stroke="#1a1a1a" stroke-width="0.9" fill="none" />
<line x1="620" y1="717.2" x2="729.5" y2="717.2" stroke="#888" stroke-width="0.6"/>
<line x1="620" y1="756" x2="729.5" y2="756" stroke="#888" stroke-width="0.6"/>
<line x1="654.1" y1="757.7" x2="654.1" y2="818.8" stroke="#1a1a1a" stroke-width="0.8"/>
<line x1="695.3" y1="757.7" x2="695.3" y2="818.8" stroke="#1a1a1a" stroke-width="0.8"/>
<line x1="655.1" y1="758.5" x2="655.1" y2="815.5" stroke="#888" stroke-width="0.5"/>
<line x1="694.2" y1="758.5" x2="694.2" y2="815.5" stroke="#888" stroke-width="0.5"/>
<line x1="657.5" y1="815.5" x2="692" y2="815.5" stroke="#1a1a1a" stroke-width="0.7"/>
<line x1="657.5" y1="815.5" x2="657.5" y2="818.8" stroke="#1a1a1a" stroke-width="0.6"/>
<line x1="692" y1="815.5" x2="692" y2="818.8" stroke="#1a1a1a" stroke-width="0.6"/>
<rect x="653.6" y="786.4" width="3.6" height="3.8" rx="0" stroke="#1a1a1a" stroke-width="0.9" fill="none"/>
<rect x="692.2" y="786.4" width="3.6" height="3.8" rx="0" stroke="#1a1a1a" stroke-width="0.9" fill="none"/>
<line x1="654.1" y1="788.3" x2="657.2" y2="788.3" stroke="#1a1a1a" stroke-width="1.2"/>
<line x1="692.2" y1="788.3" x2="695.4" y2="788.3" stroke="#1a1a1a" stroke-width="1.2"/>
<path d="M670.5 815.3 Q671 811.4 674.7 811.2 Q678.6 811.4 679 815.3" stroke="#1a1a1a" stroke-width="0.7" fill="none" />
<circle cx="353.25" cy="769.25" r="1.15" stroke="#1a1a1a" stroke-width="0.9" fill="#666"/>
<circle cx="458" cy="769.25" r="1.15" stroke="#1a1a1a" stroke-width="0.9" fill="#666"/>
<circle cx="319.2" cy="793" r="1.15" stroke="#1a1a1a" stroke-width="0.9" fill="none"/>
<circle cx="316.4" cy="791.6" r="0.9" stroke="#1a1a1a" stroke-width="0.9" fill="none"/>
<circle cx="316.4" cy="794.4" r="0.9" stroke="#1a1a1a" stroke-width="0.9" fill="none"/>
<circle cx="538.2" cy="793" r="1.15" stroke="#1a1a1a" stroke-width="0.9" fill="none"/>
<circle cx="535.4" cy="791.6" r="0.9" stroke="#1a1a1a" stroke-width="0.9" fill="none"/>
<circle cx="535.4" cy="794.4" r="0.9" stroke="#1a1a1a" stroke-width="0.9" fill="none"/>
<circle cx="350" cy="809.5" r="1.0" stroke="#1a1a1a" stroke-width="1.1" fill="none"/>
<circle cx="350" cy="816.2" r="1.0" stroke="#1a1a1a" stroke-width="1.1" fill="none"/>
<circle cx="356.25" cy="809.5" r="1.0" stroke="#1a1a1a" stroke-width="1.1" fill="none"/>
<circle cx="356.25" cy="816.2" r="1.0" stroke="#1a1a1a" stroke-width="1.1" fill="none"/>
<path d="M349.2 821.6 L351.2 821.6 L350.2 823.4 Z" stroke="#1a1a1a" stroke-width="0.3" fill="#1a1a1a" />
<path d="M352.09999999999997 821.6 L354.09999999999997 821.6 L353.09999999999997 823.4 Z" stroke="#1a1a1a" stroke-width="0.3" fill="#1a1a1a" />
<path d="M355.0 821.6 L357.0 821.6 L356.0 823.4 Z" stroke="#1a1a1a" stroke-width="0.3" fill="#1a1a1a" />
<line x1="343.5" y1="820.4" x2="349" y2="820.4" stroke="#1a1a1a" stroke-width="1.5"/>
<line x1="358" y1="820.4" x2="363" y2="820.4" stroke="#1a1a1a" stroke-width="1.5"/>
<circle cx="455" cy="809.5" r="1.0" stroke="#1a1a1a" stroke-width="1.1" fill="none"/>
<circle cx="455" cy="816.2" r="1.0" stroke="#1a1a1a" stroke-width="1.1" fill="none"/>
<circle cx="461.25" cy="809.5" r="1.0" stroke="#1a1a1a" stroke-width="1.1" fill="none"/>
<circle cx="461.25" cy="816.2" r="1.0" stroke="#1a1a1a" stroke-width="1.1" fill="none"/>
<path d="M454.2 821.6 L456.2 821.6 L455.2 823.4 Z" stroke="#1a1a1a" stroke-width="0.3" fill="#1a1a1a" />
<path d="M457.09999999999997 821.6 L459.09999999999997 821.6 L458.09999999999997 823.4 Z" stroke="#1a1a1a" stroke-width="0.3" fill="#1a1a1a" />
<path d="M460.0 821.6 L462.0 821.6 L461.0 823.4 Z" stroke="#1a1a1a" stroke-width="0.3" fill="#1a1a1a" />
<line x1="448.5" y1="820.4" x2="454" y2="820.4" stroke="#1a1a1a" stroke-width="1.5"/>
<line x1="463" y1="820.4" x2="468" y2="820.4" stroke="#1a1a1a" stroke-width="1.5"/>
<path d="M322.5 993.8 L322.5 1007.0 L328.5 1009.1999999999999 L427.7 1009.1999999999999 L433.7 1007.0 L433.7 994.3" stroke="#1a1a1a" stroke-width="0.9" fill="none" />
<line x1="323" y1="1007.1999999999999" x2="433.2" y2="1007.1999999999999" stroke="#888" stroke-width="0.6"/>
<path d="M297.5 993.8 Q285 991.8 275 986.8 Q264 979.8 257 971.3 Q249.5 960.8 245.6 949.8 Q240.5 934.8 238.2 918.8 Q235.6 894.8 235 862.4" stroke="#1a1a1a" stroke-width="1.25" fill="none" />
<path d="M258.6 970.3 Q251 959.8 247.2 948.8 Q242.3 933.8 240.1 918.3 Q237.6 894.8 236.9 862.4" stroke="#1a1a1a" stroke-width="1.0" fill="none" />
<path d="M297.5 993.8 Q360 995.4 432 995.1999999999999 Q455 994.4 475 991.1999999999999 Q490 988.5999999999999 500 986.0 L535 977.5999999999999 L575 968.1999999999999 Q590 963.8 600 958.1999999999999 Q610 951.8 615.4 947.3 L615.4 906.0" stroke="#1a1a1a" stroke-width="0.9" fill="none" />
<line x1="297.3" y1="993.8" x2="297.3" y2="905.8" stroke="#1a1a1a" stroke-width="0.8"/>
<path d="M625.3 1009.4 L724 1009.4 L730 1007.1999999999999 L730 969.4 L724 967.0999999999999 L625.3 967.0999999999999 L619.3 969.4 L619.3 1007.1999999999999 Z" stroke="#1a1a1a" stroke-width="0.9" fill="none" />
<line x1="620" y1="1007.5999999999999" x2="729.5" y2="1007.5999999999999" stroke="#888" stroke-width="0.6"/>
<line x1="620" y1="968.8" x2="729.5" y2="968.8" stroke="#888" stroke-width="0.6"/>
<line x1="654.1" y1="967.0999999999999" x2="654.1" y2="906.0" stroke="#1a1a1a" stroke-width="0.8"/>
<line x1="695.3" y1="967.0999999999999" x2="695.3" y2="906.0" stroke="#1a1a1a" stroke-width="0.8"/>
<line x1="655.1" y1="966.3" x2="655.1" y2="909.3" stroke="#888" stroke-width="0.5"/>
<line x1="694.2" y1="966.3" x2="694.2" y2="909.3" stroke="#888" stroke-width="0.5"/>
<line x1="657.5" y1="909.3" x2="692" y2="909.3" stroke="#1a1a1a" stroke-width="0.7"/>
<line x1="657.5" y1="909.3" x2="657.5" y2="906.0" stroke="#1a1a1a" stroke-width="0.6"/>
<line x1="692" y1="909.3" x2="692" y2="906.0" stroke="#1a1a1a" stroke-width="0.6"/>
<rect x="653.6" y="934.5999999999999" width="3.6" height="3.8" rx="0" stroke="#1a1a1a" stroke-width="0.9" fill="none"/>
<rect x="692.2" y="934.5999999999999" width="3.6" height="3.8" rx="0" stroke="#1a1a1a" stroke-width="0.9" fill="none"/>
<line x1="654.1" y1="936.5" x2="657.2" y2="936.5" stroke="#1a1a1a" stroke-width="1.2"/>
<line x1="692.2" y1="936.5" x2="695.4" y2="936.5" stroke="#1a1a1a" stroke-width="1.2"/>
<path d="M670.5 909.5 Q671 913.4 674.7 913.5999999999999 Q678.6 913.4 679 909.5" stroke="#1a1a1a" stroke-width="0.7" fill="none" />
<circle cx="376.25" cy="955.75" r="1.15" stroke="#1a1a1a" stroke-width="0.9" fill="#666"/>
<circle cx="458" cy="955.75" r="1.15" stroke="#1a1a1a" stroke-width="0.9" fill="#666"/>
<circle cx="319.2" cy="931.8" r="1.15" stroke="#1a1a1a" stroke-width="0.9" fill="none"/>
<circle cx="316.4" cy="933.1999999999999" r="0.9" stroke="#1a1a1a" stroke-width="0.9" fill="none"/>
<circle cx="316.4" cy="930.4" r="0.9" stroke="#1a1a1a" stroke-width="0.9" fill="none"/>
<circle cx="538.2" cy="931.8" r="1.15" stroke="#1a1a1a" stroke-width="0.9" fill="none"/>
<circle cx="535.4" cy="933.1999999999999" r="0.9" stroke="#1a1a1a" stroke-width="0.9" fill="none"/>
<circle cx="535.4" cy="930.4" r="0.9" stroke="#1a1a1a" stroke-width="0.9" fill="none"/>
<circle cx="373.25" cy="915.3" r="1.0" stroke="#1a1a1a" stroke-width="1.1" fill="none"/>
<circle cx="373.25" cy="908.5999999999999" r="1.0" stroke="#1a1a1a" stroke-width="1.1" fill="none"/>
<circle cx="379.5" cy="915.3" r="1.0" stroke="#1a1a1a" stroke-width="1.1" fill="none"/>
<circle cx="379.5" cy="908.5999999999999" r="1.0" stroke="#1a1a1a" stroke-width="1.1" fill="none"/>
<path d="M372.45 903.1999999999999 L374.45 903.1999999999999 L373.45 901.4 Z" stroke="#1a1a1a" stroke-width="0.3" fill="#1a1a1a" />
<path d="M375.34999999999997 903.1999999999999 L377.34999999999997 903.1999999999999 L376.34999999999997 901.4 Z" stroke="#1a1a1a" stroke-width="0.3" fill="#1a1a1a" />
<path d="M378.25 903.1999999999999 L380.25 903.1999999999999 L379.25 901.4 Z" stroke="#1a1a1a" stroke-width="0.3" fill="#1a1a1a" />
<line x1="366.75" y1="904.4" x2="372.25" y2="904.4" stroke="#1a1a1a" stroke-width="1.5"/>
<line x1="381.25" y1="904.4" x2="386.25" y2="904.4" stroke="#1a1a1a" stroke-width="1.5"/>
<circle cx="455" cy="915.3" r="1.0" stroke="#1a1a1a" stroke-width="1.1" fill="none"/>
<circle cx="455" cy="908.5999999999999" r="1.0" stroke="#1a1a1a" stroke-width="1.1" fill="none"/>
<circle cx="461.25" cy="915.3" r="1.0" stroke="#1a1a1a" stroke-width="1.1" fill="none"/>
<circle cx="461.25" cy="908.5999999999999" r="1.0" stroke="#1a1a1a" stroke-width="1.1" fill="none"/>
<path d="M454.2 903.1999999999999 L456.2 903.1999999999999 L455.2 901.4 Z" stroke="#1a1a1a" stroke-width="0.3" fill="#1a1a1a" />
<path d="M457.09999999999997 903.1999999999999 L459.09999999999997 903.1999999999999 L458.09999999999997 901.4 Z" stroke="#1a1a1a" stroke-width="0.3" fill="#1a1a1a" />
<path d="M460.0 903.1999999999999 L462.0 903.1999999999999 L461.0 901.4 Z" stroke="#1a1a1a" stroke-width="0.3" fill="#1a1a1a" />
<line x1="448.5" y1="904.4" x2="454" y2="904.4" stroke="#1a1a1a" stroke-width="1.5"/>
<line x1="463" y1="904.4" x2="468" y2="904.4" stroke="#1a1a1a" stroke-width="1.5"/>
<circle cx="408.75" cy="754.5" r="8.3" stroke="#1a1a1a" stroke-width="0.9" fill="none"/>
<line x1="401.6" y1="756.3" x2="415.9" y2="756.3" stroke="#1a1a1a" stroke-width="0.9"/>
<line x1="402" y1="757.7" x2="415.5" y2="757.7" stroke="#777" stroke-width="0.8"/>
<path d="M403.2 757.8 L404.5 760.2 L407 760.4" stroke="#1a1a1a" stroke-width="0.6" fill="none" />
<circle cx="398.2" cy="756.2" r="0.45" stroke="#1a1a1a" stroke-width="0.2" fill="#1a1a1a"/>
<circle cx="419.3" cy="756.2" r="0.45" stroke="#1a1a1a" stroke-width="0.2" fill="#1a1a1a"/>
<circle cx="408.75" cy="764.6" r="0.45" stroke="#1a1a1a" stroke-width="0.2" fill="#1a1a1a"/>
<rect x="587.7" y="818.8" width="138" height="3.5" rx="0" stroke="#1a1a1a" stroke-width="0.8" fill="#fff"/>
<line x1="297.3" y1="819.4" x2="587.7" y2="819.4" stroke="#1a1a1a" stroke-width="0.9"/>
<line x1="297.3" y1="821.5" x2="587.7" y2="821.5" stroke="#1a1a1a" stroke-width="0.9"/>
<path d="M701.7 822.3 L701.7 826 Q704.6 827 704.9 830 L704.9 845" stroke="#1a1a1a" stroke-width="0.9" fill="none" />
<circle cx="692" cy="824.5" r="0.6" stroke="#1a1a1a" stroke-width="0.2" fill="#1a1a1a"/>
<circle cx="590.5" cy="824.5" r="0.6" stroke="#1a1a1a" stroke-width="0.2" fill="#1a1a1a"/>
<circle cx="613.2" cy="815.3" r="0.7" stroke="#1a1a1a" stroke-width="0.4" fill="#1a1a1a"/>
<rect x="606.3" y="822.3" width="4.4" height="4.3" rx="1" stroke="#1a1a1a" stroke-width="0.9" fill="none"/>
<rect x="587.7" y="902.5" width="138" height="3.5" rx="0" stroke="#1a1a1a" stroke-width="0.8" fill="#fff"/>
<line x1="297.3" y1="905.4" x2="587.7" y2="905.4" stroke="#1a1a1a" stroke-width="0.9"/>
<line x1="297.3" y1="903.3" x2="587.7" y2="903.3" stroke="#1a1a1a" stroke-width="0.9"/>
<path d="M701.7 902.5 L701.7 898.8 Q704.6 897.8 704.9 894.8 L704.9 879.8" stroke="#1a1a1a" stroke-width="0.9" fill="none" />
<circle cx="692" cy="900.3" r="0.6" stroke="#1a1a1a" stroke-width="0.2" fill="#1a1a1a"/>
<circle cx="590.5" cy="900.3" r="0.6" stroke="#1a1a1a" stroke-width="0.2" fill="#1a1a1a"/>
<circle cx="613.2" cy="909.5" r="0.7" stroke="#1a1a1a" stroke-width="0.4" fill="#1a1a1a"/>
<rect x="606.3" y="898.1999999999999" width="4.4" height="4.3" rx="1" stroke="#1a1a1a" stroke-width="0.9" fill="none"/>
<line x1="290" y1="829.2" x2="674.4" y2="829.2" stroke="#1a1a1a" stroke-width="1.0"/>
<line x1="290" y1="832" x2="674.4" y2="832" stroke="#1a1a1a" stroke-width="1.3"/>
<path d="M674.4 826 L674.4 832" stroke="#1a1a1a" stroke-width="0.9" fill="none" />
<line x1="587.7" y1="826" x2="674.4" y2="826" stroke="#1a1a1a" stroke-width="0.8"/>
<path d="M587.7 822.3 L587.7 829.2" stroke="#1a1a1a" stroke-width="0.9" fill="none" />
<line x1="633" y1="829.4" x2="633" y2="832" stroke="#1a1a1a" stroke-width="0.7"/>
<line x1="651" y1="832" x2="651" y2="845" stroke="#1a1a1a" stroke-width="0.6"/>
<rect x="391.5" y="840.2" width="278.5" height="2.6" rx="0" stroke="none" stroke-width="0" fill="#808080"/>
<line x1="391.5" y1="843.5" x2="670" y2="843.5" stroke="#1a1a1a" stroke-width="0.6"/>
<line x1="351.6" y1="842.8" x2="670" y2="842.8" stroke="#555" stroke-width="0.6"/>
<rect x="351.6" y="832.7" width="39" height="9.7" rx="0" stroke="#888" stroke-width="0.6" fill="#ddd"/>
<line x1="351.6" y1="836" x2="390.6" y2="836" stroke="#999" stroke-width="0.6"/>
<line x1="351.6" y1="839.5" x2="368" y2="839.5" stroke="#777" stroke-width="0.8"/>
<line x1="390.6" y1="838" x2="512" y2="838" stroke="#1a1a1a" stroke-width="0.7"/>
<rect x="459.8" y="833.5" width="2.2" height="7" rx="0" stroke="#1a1a1a" stroke-width="0.5" fill="#bbb"/>
<line x1="636" y1="837" x2="676" y2="837" stroke="#777" stroke-width="0.7"/>
<line x1="641" y1="840" x2="676" y2="840" stroke="#777" stroke-width="0.7"/>
<path d="M676 832 Q678 836 676 841" stroke="#1a1a1a" stroke-width="0.6" fill="none" />
<rect x="426" y="829.4" width="1.2" height="2.4" rx="0" stroke="#1a1a1a" stroke-width="0.3" fill="#1a1a1a"/>
<rect x="440" y="829.4" width="1.2" height="2.4" rx="0" stroke="#1a1a1a" stroke-width="0.3" fill="#1a1a1a"/>
<rect x="466" y="829.4" width="1.2" height="2.4" rx="0" stroke="#1a1a1a" stroke-width="0.3" fill="#1a1a1a"/>
<rect x="474" y="829.4" width="1.2" height="2.4" rx="0" stroke="#1a1a1a" stroke-width="0.3" fill="#1a1a1a"/>
<rect x="491" y="829.4" width="1.2" height="2.4" rx="0" stroke="#1a1a1a" stroke-width="0.3" fill="#1a1a1a"/>
<path d="M509 830.6 q6 -1.6 12 0 q6 1.6 12 0 q5 -1.4 10 0" stroke="#1a1a1a" stroke-width="0.9" fill="none" />
<line x1="244.5" y1="822.3" x2="296.4" y2="822.3" stroke="#1a1a1a" stroke-width="0.9"/>
<line x1="259.4" y1="822.3" x2="259.4" y2="830.7" stroke="#1a1a1a" stroke-width="0.8"/>
<line x1="259.4" y1="830.7" x2="264.6" y2="830.7" stroke="#1a1a1a" stroke-width="0.8"/>
<rect x="264.6" y="825.5" width="32" height="3.8999999999999773" rx="0" stroke="#1a1a1a" stroke-width="0.9" fill="none"/>
<rect x="271.8" y="823" width="24.6" height="3" rx="0" stroke="#1a1a1a" stroke-width="0.7" fill="none"/>
<line x1="264.6" y1="830.7" x2="290" y2="830.7" stroke="#1a1a1a" stroke-width="1.2"/>
<rect x="274.4" y="832.7" width="11.6" height="4.5" rx="0" stroke="#1a1a1a" stroke-width="0.9" fill="none"/>
<line x1="283.8" y1="832.7" x2="283.8" y2="837.2" stroke="#1a1a1a" stroke-width="1.0"/>
<rect x="262" y="837.2" width="38.3" height="4.7999999999999545" rx="0" stroke="#1a1a1a" stroke-width="0.9" fill="none"/>
<line x1="259.4" y1="836.6" x2="259.4" y2="845" stroke="#1a1a1a" stroke-width="0.8"/>
<line x1="259.4" y1="836.6" x2="262" y2="836.6" stroke="#1a1a1a" stroke-width="0.8"/>
<path d="M282 843.4 q4 -2.8 8 0" stroke="#1a1a1a" stroke-width="1.0" fill="none" />
<line x1="265" y1="843" x2="279" y2="843" stroke="#1a1a1a" stroke-width="1.3"/>
<line x1="253.6" y1="844.4" x2="392" y2="844.4" stroke="#1a1a1a" stroke-width="0.9"/>
<circle cx="256.2" cy="848.2" r="1.4" stroke="#1a1a1a" stroke-width="0.4" fill="#1a1a1a"/>
<circle cx="281.9" cy="853.4" r="0.6" stroke="#1a1a1a" stroke-width="0.2" fill="#1a1a1a"/>
<line x1="265.3" y1="846.9" x2="278.3" y2="855.5" stroke="#1a1a1a" stroke-width="0.8"/>
<line x1="266.5" y1="850.5" x2="277.5" y2="857" stroke="#1a1a1a" stroke-width="0.8"/>
<line x1="278.2" y1="856" x2="278.2" y2="860" stroke="#1a1a1a" stroke-width="0.8"/>
<line x1="244.5" y1="902.5" x2="296.4" y2="902.5" stroke="#1a1a1a" stroke-width="0.9"/>
<line x1="259.4" y1="902.5" x2="259.4" y2="894.0999999999999" stroke="#1a1a1a" stroke-width="0.8"/>
<line x1="259.4" y1="894.0999999999999" x2="264.6" y2="894.0999999999999" stroke="#1a1a1a" stroke-width="0.8"/>
<rect x="264.6" y="895.4" width="32" height="3.8999999999999773" rx="0" stroke="#1a1a1a" stroke-width="0.9" fill="none"/>
<rect x="271.8" y="898.8" width="24.6" height="3.0" rx="0" stroke="#1a1a1a" stroke-width="0.7" fill="none"/>
<line x1="264.6" y1="894.0999999999999" x2="290" y2="894.0999999999999" stroke="#1a1a1a" stroke-width="1.2"/>
<rect x="274.4" y="887.5999999999999" width="11.6" height="4.5" rx="0" stroke="#1a1a1a" stroke-width="0.9" fill="none"/>
<line x1="283.8" y1="887.5999999999999" x2="283.8" y2="892.0999999999999" stroke="#1a1a1a" stroke-width="1.0"/>
<rect x="262" y="882.8" width="38.3" height="4.7999999999999545" rx="0" stroke="#1a1a1a" stroke-width="0.9" fill="none"/>
<line x1="259.4" y1="888.1999999999999" x2="259.4" y2="879.8" stroke="#1a1a1a" stroke-width="0.8"/>
<line x1="259.4" y1="888.1999999999999" x2="262" y2="888.1999999999999" stroke="#1a1a1a" stroke-width="0.8"/>
<path d="M282 881.4 q4 2.8 8 0" stroke="#1a1a1a" stroke-width="1.0" fill="none" />
<line x1="265" y1="881.8" x2="279" y2="881.8" stroke="#1a1a1a" stroke-width="1.3"/>
<line x1="253.6" y1="880.4" x2="392" y2="880.4" stroke="#1a1a1a" stroke-width="0.9"/>
<circle cx="256.2" cy="876.5999999999999" r="1.4" stroke="#1a1a1a" stroke-width="0.4" fill="#1a1a1a"/>
<circle cx="281.9" cy="871.4" r="0.6" stroke="#1a1a1a" stroke-width="0.2" fill="#1a1a1a"/>
<line x1="265.3" y1="877.9" x2="278.3" y2="869.3" stroke="#1a1a1a" stroke-width="0.8"/>
<line x1="266.5" y1="874.3" x2="277.5" y2="867.8" stroke="#1a1a1a" stroke-width="0.8"/>
<line x1="278.2" y1="868.8" x2="278.2" y2="864.8" stroke="#1a1a1a" stroke-width="0.8"/>
<line x1="265.3" y1="846.3" x2="265.3" y2="878.2" stroke="#1a1a1a" stroke-width="0.9"/>
<line x1="267" y1="846.3" x2="267" y2="878.2" stroke="#1a1a1a" stroke-width="0.6"/>
<line x1="259.4" y1="845" x2="259.4" y2="880" stroke="#1a1a1a" stroke-width="0.7"/>
<line x1="241.9" y1="860.6" x2="278.2" y2="860.6" stroke="#1a1a1a" stroke-width="0.9"/>
<line x1="241.9" y1="864.5" x2="278.2" y2="864.5" stroke="#1a1a1a" stroke-width="0.9"/>
<line x1="241.9" y1="860.6" x2="241.9" y2="864.5" stroke="#1a1a1a" stroke-width="0.9"/>
<line x1="243" y1="861.8" x2="256" y2="861.8" stroke="#666" stroke-width="0.6"/>
<line x1="243" y1="863.3" x2="256" y2="863.3" stroke="#666" stroke-width="0.6"/>
<path d="M252 854.9 L256.4 855.2 Q257.6 862.5 256.4 870.4 L252 870.8 L252 868.8 L255 868.6 M252 854.9 L252 856.6 L255 856.9" stroke="#1a1a1a" stroke-width="0.9" fill="none" />
<rect x="279.5" y="846.2" width="742.5" height="32.2" rx="0" stroke="#1a1a1a" stroke-width="0.0" fill="#fff"/>
<line x1="279.5" y1="846.0" x2="1022" y2="846.0" stroke="#1a1a1a" stroke-width="2.0"/>
<line x1="279.5" y1="878.7" x2="1022" y2="878.7" stroke="#1a1a1a" stroke-width="2.0"/>
<line x1="279.5" y1="846" x2="279.5" y2="878.6" stroke="#1a1a1a" stroke-width="1.0"/>
<line x1="1022" y1="845.4" x2="1022" y2="879.4" stroke="#1a1a1a" stroke-width="1.2"/>
<path d="M735 855.6 L753.5 847.6 L856 847.6 L874.5 855.6 L874.5 869.4 L856 877.2 L753.5 877.2 L735 869.4 Z" stroke="#1a1a1a" stroke-width="0.9" fill="none" />
<line x1="753.5" y1="877.2" x2="856" y2="877.2" stroke="#1a1a1a" stroke-width="1.3"/>
<rect x="770.3" y="859.6" width="17" height="5.9" rx="2.95" stroke="#1a1a1a" stroke-width="0.9" fill="none"/>
<rect x="822.8" y="859.6" width="17" height="5.9" rx="2.95" stroke="#1a1a1a" stroke-width="0.9" fill="none"/>
<circle cx="1008.5" cy="855.3" r="1.1" stroke="#1a1a1a" stroke-width="0.7" fill="none"/>
<path d="M1015.6 853.6999999999999 v3.2 M1018.4 853.6999999999999 v3.2 M1015.6 855.3 h2.8" stroke="#1a1a1a" stroke-width="0.9" fill="none" />
<path d="M1031.1 855.3 v3.2 M1033.9 855.3 v3.2 M1031.1 856.9 h2.8" stroke="#1a1a1a" stroke-width="0.9" fill="none" />
<circle cx="1023.8" cy="857.1999999999999" r="0.8" stroke="#1a1a1a" stroke-width="0.5" fill="none"/>
<circle cx="1008.5" cy="870" r="1.1" stroke="#1a1a1a" stroke-width="0.7" fill="none"/>
<path d="M1015.6 868.4 v3.2 M1018.4 868.4 v3.2 M1015.6 870 h2.8" stroke="#1a1a1a" stroke-width="0.9" fill="none" />
<path d="M1031.1 865.8 v3.2 M1033.9 865.8 v3.2 M1031.1 867.4 h2.8" stroke="#1a1a1a" stroke-width="0.9" fill="none" />
<circle cx="1023.8" cy="867.4" r="0.8" stroke="#1a1a1a" stroke-width="0.5" fill="none"/>
<rect x="997.0" y="844.6" width="1.8" height="1.2" rx="0" stroke="#1a1a1a" stroke-width="0.3" fill="#1a1a1a"/>
<rect x="997.0" y="879.2" width="1.8" height="1.2" rx="0" stroke="#1a1a1a" stroke-width="0.3" fill="#1a1a1a"/>
<rect x="1001.5" y="844.6" width="1.8" height="1.2" rx="0" stroke="#1a1a1a" stroke-width="0.3" fill="#1a1a1a"/>
<rect x="1001.5" y="879.2" width="1.8" height="1.2" rx="0" stroke="#1a1a1a" stroke-width="0.3" fill="#1a1a1a"/>
<rect x="1006.0" y="844.6" width="1.8" height="1.2" rx="0" stroke="#1a1a1a" stroke-width="0.3" fill="#1a1a1a"/>
<rect x="1006.0" y="879.2" width="1.8" height="1.2" rx="0" stroke="#1a1a1a" stroke-width="0.3" fill="#1a1a1a"/>
<rect x="1010.5" y="844.6" width="1.8" height="1.2" rx="0" stroke="#1a1a1a" stroke-width="0.3" fill="#1a1a1a"/>
<rect x="1010.5" y="879.2" width="1.8" height="1.2" rx="0" stroke="#1a1a1a" stroke-width="0.3" fill="#1a1a1a"/>
<rect x="1015.0" y="844.6" width="1.8" height="1.2" rx="0" stroke="#1a1a1a" stroke-width="0.3" fill="#1a1a1a"/>
<rect x="1015.0" y="879.2" width="1.8" height="1.2" rx="0" stroke="#1a1a1a" stroke-width="0.3" fill="#1a1a1a"/>
<rect x="1019.5" y="844.6" width="1.8" height="1.2" rx="0" stroke="#1a1a1a" stroke-width="0.3" fill="#1a1a1a"/>
<rect x="1019.5" y="879.2" width="1.8" height="1.2" rx="0" stroke="#1a1a1a" stroke-width="0.3" fill="#1a1a1a"/>
<path d="M1022 848.7 L1035.5 848.7 Q1037.5 849 1037.5 851 L1037.5 874 Q1037.5 876 1035.5 876.3 L1022 876.3" stroke="#1a1a1a" stroke-width="1.1" fill="none" />
<path d="M1034 857.5 v3 h-3 v4.5 h3 v3" stroke="#1a1a1a" stroke-width="0.8" fill="none" />
<line x1="1037.5" y1="853.1" x2="1089.3" y2="853.1" stroke="#1a1a1a" stroke-width="1.5"/>
<line x1="1037.5" y1="872.4" x2="1089.3" y2="872.4" stroke="#1a1a1a" stroke-width="1.1"/>
<line x1="1045.2" y1="853.1" x2="1045.2" y2="872.4" stroke="#1a1a1a" stroke-width="0.7"/>
<rect x="1063.5" y="851.8" width="2" height="1.2" rx="0" stroke="#1a1a1a" stroke-width="0.3" fill="#1a1a1a"/>
<rect x="1063.5" y="872.6" width="2" height="1.2" rx="0" stroke="#1a1a1a" stroke-width="0.3" fill="#1a1a1a"/>
<path d="M1102.6 856.4 L1082.5 856.4 Q1078.3 856.8 1078.3 862.7 Q1078.3 868.6 1082.5 869 L1102.6 869" stroke="#1a1a1a" stroke-width="0.9" fill="none" />
<path d="M1102.6 857.6 L1083.5 857.6 Q1080.6 858 1080.6 862.7 Q1080.6 867.4 1083.5 867.8 L1102.6 867.8" stroke="#1a1a1a" stroke-width="0.6" fill="none" />
<rect x="1078.5" y="850.4" width="9" height="2.6" rx="0" stroke="#666" stroke-width="0.6" fill="#aaa"/>
<rect x="1078.5" y="872.4" width="9" height="2.2" rx="0" stroke="#777" stroke-width="0.6" fill="#ddd"/>
<line x1="1078.3" y1="853.6" x2="1090.5" y2="853.6" stroke="#1a1a1a" stroke-width="0.8"/>
<line x1="1078.3" y1="872" x2="1090.5" y2="872" stroke="#1a1a1a" stroke-width="0.8"/>
<rect x="322.4" y="885.3" width="55.8" height="11.7" rx="0" stroke="#1a1a1a" stroke-width="0.9" fill="#fff"/>
<line x1="324" y1="885.3" x2="324" y2="897" stroke="#1a1a1a" stroke-width="0.7"/>
<rect x="323" y="882.6" width="10" height="2.8" rx="0" stroke="#1a1a1a" stroke-width="0.8" fill="none"/>
<path d="M327 885 l1.5 -2 l2 2" stroke="#1a1a1a" stroke-width="0.6" fill="none" />
<circle cx="326.7" cy="891" r="0.5" stroke="#1a1a1a" stroke-width="0.2" fill="#1a1a1a"/>
<rect x="378.2" y="884.8" width="31.2" height="12.6" rx="0" stroke="#1a1a1a" stroke-width="0.9" fill="#777"/>
<line x1="379.3" y1="885.2" x2="379.3" y2="897" stroke="#111" stroke-width="1.0"/>
<line x1="381.5" y1="885.2" x2="381.5" y2="897" stroke="#ccc" stroke-width="1.0"/>
<line x1="383.7" y1="885.2" x2="383.7" y2="897" stroke="#111" stroke-width="1.0"/>
<line x1="385.90000000000003" y1="885.2" x2="385.90000000000003" y2="897" stroke="#ccc" stroke-width="1.0"/>
<line x1="388.1" y1="885.2" x2="388.1" y2="897" stroke="#111" stroke-width="1.0"/>
<line x1="390.3" y1="885.2" x2="390.3" y2="897" stroke="#ccc" stroke-width="1.0"/>
<line x1="392.5" y1="885.2" x2="392.5" y2="897" stroke="#111" stroke-width="1.0"/>
<line x1="394.7" y1="885.2" x2="394.7" y2="897" stroke="#ccc" stroke-width="1.0"/>
<line x1="396.90000000000003" y1="885.2" x2="396.90000000000003" y2="897" stroke="#111" stroke-width="1.0"/>
<line x1="399.1" y1="885.2" x2="399.1" y2="897" stroke="#ccc" stroke-width="1.0"/>
<line x1="401.3" y1="885.2" x2="401.3" y2="897" stroke="#111" stroke-width="1.0"/>
<line x1="403.5" y1="885.2" x2="403.5" y2="897" stroke="#ccc" stroke-width="1.0"/>
<line x1="405.7" y1="885.2" x2="405.7" y2="897" stroke="#111" stroke-width="1.0"/>
<line x1="407.90000000000003" y1="885.2" x2="407.90000000000003" y2="897" stroke="#ccc" stroke-width="1.0"/>
<rect x="381.5" y="886" width="3.2" height="10.6" rx="0" stroke="#222" stroke-width="0.5" fill="#eee"/>
<rect x="393" y="886" width="3" height="10.6" rx="0" stroke="#222" stroke-width="0.5" fill="#bbb"/>
<rect x="408.6" y="883.4" width="3.2" height="15.6" rx="0" stroke="#1a1a1a" stroke-width="0.6" fill="#1a1a1a"/>
<path d="M411.8 884.8 L431.5 884.8 Q441 886.4 451.4 886.6 L451.4 895.8 Q441 896.2 431.5 898.2 L411.8 898.6 Z" stroke="#1a1a1a" stroke-width="0.9" fill="#fff" />
<circle cx="417" cy="888.3" r="0.6" stroke="#1a1a1a" stroke-width="0.2" fill="#1a1a1a"/>
<circle cx="417" cy="894.6" r="0.6" stroke="#1a1a1a" stroke-width="0.2" fill="#1a1a1a"/>
<circle cx="424.5" cy="888.3" r="0.6" stroke="#1a1a1a" stroke-width="0.2" fill="#1a1a1a"/>
<circle cx="424.5" cy="894.6" r="0.6" stroke="#1a1a1a" stroke-width="0.2" fill="#1a1a1a"/>
<rect x="279.5" y="879.6" width="390.5" height="2.3" rx="0" stroke="none" stroke-width="0" fill="#8c8c8c"/>
<line x1="253.6" y1="880.4" x2="392" y2="880.4" stroke="#1a1a1a" stroke-width="0.9"/>
<line x1="431" y1="884.9" x2="959.6" y2="884.9" stroke="#1a1a1a" stroke-width="1.3" stroke-dasharray="6.4 1.1"/>
<line x1="451.4" y1="897.1" x2="959.6" y2="897.1" stroke="#1a1a1a" stroke-width="1.3" stroke-dasharray="6.4 1.1"/>
<line x1="451.4" y1="886.5" x2="1018" y2="886.5" stroke="#1a1a1a" stroke-width="0.9"/>
<line x1="451.4" y1="895.4" x2="1018" y2="895.4" stroke="#1a1a1a" stroke-width="0.9"/>
<line x1="451.4" y1="886.6" x2="451.4" y2="895.8" stroke="#1a1a1a" stroke-width="0.8"/>
<line x1="451.4" y1="899" x2="725" y2="899" stroke="#666" stroke-width="0.6"/>
<circle cx="528" cy="883.6" r="1.4" stroke="#1a1a1a" stroke-width="0.8" fill="none"/>
<circle cx="528" cy="898" r="1.4" stroke="#1a1a1a" stroke-width="0.8" fill="none"/>
<circle cx="591.7" cy="883.6" r="1.4" stroke="#1a1a1a" stroke-width="0.8" fill="none"/>
<circle cx="591.7" cy="898" r="1.4" stroke="#1a1a1a" stroke-width="0.8" fill="none"/>
<circle cx="767" cy="883.6" r="1.4" stroke="#1a1a1a" stroke-width="0.8" fill="none"/>
<circle cx="767" cy="898" r="1.4" stroke="#1a1a1a" stroke-width="0.8" fill="none"/>
<circle cx="958" cy="883.6" r="1.4" stroke="#1a1a1a" stroke-width="0.8" fill="none"/>
<circle cx="958" cy="898" r="1.4" stroke="#1a1a1a" stroke-width="0.8" fill="none"/>
<path d="M553 880.6 l-1 3 M556.5 880.6 l1.2 3" stroke="#1a1a1a" stroke-width="0.9" fill="none" />
<circle cx="555" cy="882.6" r="0.8" stroke="#1a1a1a" stroke-width="0.5" fill="none"/>
<path d="M781 880.6 l-1 3 M784.5 880.6 l1.2 3" stroke="#1a1a1a" stroke-width="0.9" fill="none" />
<circle cx="783" cy="882.6" r="0.8" stroke="#1a1a1a" stroke-width="0.5" fill="none"/>
<path d="M896 880.6 l-1 3 M899.5 880.6 l1.2 3" stroke="#1a1a1a" stroke-width="0.9" fill="none" />
<circle cx="897.5" cy="882.6" r="0.8" stroke="#1a1a1a" stroke-width="0.5" fill="none"/>
<rect x="304" y="902.8" width="415" height="2.6" rx="0" stroke="none" stroke-width="0" fill="#8a8a8a"/>
<line x1="297.3" y1="902.8" x2="725" y2="902.8" stroke="#1a1a1a" stroke-width="0.7"/>
<line x1="297.3" y1="905.6" x2="725" y2="905.6" stroke="#1a1a1a" stroke-width="0.8"/>
<rect x="468" y="898.6" width="2.6" height="5" rx="0" stroke="#1a1a1a" stroke-width="0.6" fill="none"/>
<line x1="297.3" y1="905.6" x2="297.3" y2="993.8" stroke="#1a1a1a" stroke-width="0.8"/>
<path d="M298 904 l3 0 l1.5 1" stroke="#1a1a1a" stroke-width="0.8" fill="none" />
<line x1="587" y1="903" x2="587" y2="899.5" stroke="#1a1a1a" stroke-width="0.7"/>
<rect x="586" y="897" width="6" height="4" rx="0" stroke="#1a1a1a" stroke-width="0.8" fill="none"/>
<path d="M604 898 h8 M605 900.5 h6 M608 898 v5" stroke="#1a1a1a" stroke-width="1.1" fill="none" />
<line x1="633" y1="893" x2="633" y2="897" stroke="#1a1a1a" stroke-width="0.7"/>
<line x1="1018" y1="886.5" x2="1058.7" y2="886.5" stroke="#1a1a1a" stroke-width="0.9"/>
<line x1="1018" y1="895.4" x2="1058.7" y2="895.4" stroke="#1a1a1a" stroke-width="0.9"/>
<path d="M1058.7 886.5 Q1059.6 891 1058.7 895.4" stroke="#1a1a1a" stroke-width="0.9" fill="none" />
<rect x="1017.6" y="882.4" width="9.9" height="17.6" rx="0" stroke="#1a1a1a" stroke-width="0.9" fill="#fff"/>
<rect x="1023.5" y="883.4" width="3" height="15.6" rx="0" stroke="#1a1a1a" stroke-width="0.9" fill="none"/>
<rect x="1018.6" y="880.8" width="6" height="2" rx="0" stroke="#777" stroke-width="0.6" fill="none"/>
<rect x="1018.6" y="899.6" width="6" height="2" rx="0" stroke="#777" stroke-width="0.6" fill="none"/>
<rect x="1043.4" y="872.6" width="3.6" height="13.6" rx="0" stroke="#1a1a1a" stroke-width="0.8" fill="none"/>
<rect x="1041.9" y="872.6" width="6.6" height="1.8" rx="0" stroke="#1a1a1a" stroke-width="0.5" fill="#1a1a1a"/>
<rect x="1041.9" y="884.6" width="6.6" height="1.6" rx="0" stroke="#1a1a1a" stroke-width="0.5" fill="#1a1a1a"/>
<rect x="1042.6" y="896" width="5.4" height="2.4" rx="0" stroke="#555" stroke-width="0.7" fill="none"/>
<rect x="1041.5" y="897.6" width="7.6" height="1.6" rx="0" stroke="#555" stroke-width="0.6" fill="#ccc"/>
<line x1="1107" y1="844.4" x2="1276.6" y2="844.4" stroke="#1a1a1a" stroke-width="1.0"/>
<line x1="1107" y1="850.2" x2="1256.5" y2="850.2" stroke="#1a1a1a" stroke-width="0.9"/>
<line x1="1112" y1="853.8" x2="1256.5" y2="853.8" stroke="#1a1a1a" stroke-width="0.9"/>
<line x1="1112" y1="869.6" x2="1256.5" y2="869.6" stroke="#1a1a1a" stroke-width="0.9"/>
<line x1="1112" y1="870.9" x2="1256.5" y2="870.9" stroke="#1a1a1a" stroke-width="0.7"/>
<line x1="1107" y1="877.4" x2="1256.5" y2="877.4" stroke="#1a1a1a" stroke-width="0.9"/>
<line x1="1107" y1="879.6" x2="1276.6" y2="879.6" stroke="#1a1a1a" stroke-width="1.0"/>
<line x1="1256.5" y1="853.8" x2="1256.5" y2="870.9" stroke="#1a1a1a" stroke-width="0.8"/>
<line x1="1239.5" y1="870.9" x2="1239.5" y2="877.4" stroke="#1a1a1a" stroke-width="0.7"/>
<path d="M1102.5 852 L1107 852 L1107 844.4 M1102.5 872.6 L1107 872.6 L1107 879.6" stroke="#1a1a1a" stroke-width="0.9" fill="none" />
<rect x="1102.5" y="852" width="9.6" height="20.6" rx="0" stroke="#1a1a1a" stroke-width="0.9" fill="none"/>
<path d="M1109.6 857.6 Q1111.4 862.6 1109.6 867.4" stroke="#1a1a1a" stroke-width="0.7" fill="none" />
<line x1="1112.1" y1="853" x2="1112.1" y2="872" stroke="#1a1a1a" stroke-width="0.6"/>
<rect x="1105.6" y="842.6" width="1.3" height="9.4" rx="0" stroke="#1a1a1a" stroke-width="0.6" fill="none"/>
<rect x="1105.6" y="872.6" width="1.3" height="9.4" rx="0" stroke="#1a1a1a" stroke-width="0.6" fill="none"/>
<circle cx="1104" cy="841.6" r="1.0" stroke="#1a1a1a" stroke-width="0.6" fill="#666"/>
<circle cx="1104" cy="882.6" r="1.0" stroke="#1a1a1a" stroke-width="0.6" fill="#666"/>
<rect x="1106.9" y="841.3" width="5.4" height="1.8" rx="0" stroke="#444" stroke-width="0.7" fill="none"/>
<rect x="1106.9" y="882" width="5.4" height="1.8" rx="0" stroke="#444" stroke-width="0.7" fill="none"/>
<rect x="1102.8" y="852.3" width="9" height="1.6" rx="0" stroke="#555" stroke-width="0.4" fill="#999"/>
<rect x="1102.8" y="870.8" width="9" height="1.6" rx="0" stroke="#555" stroke-width="0.4" fill="#999"/>
<line x1="1123.4" y1="853.8" x2="1123.4" y2="869.6" stroke="#1a1a1a" stroke-width="0.8"/>
<line x1="1114.6" y1="853.8" x2="1114.6" y2="869.6" stroke="#1a1a1a" stroke-width="0.6"/>
<rect x="1128.2" y="871.1" width="111.1" height="6.3" rx="0" stroke="#1a1a1a" stroke-width="0.8" fill="none"/>
<line x1="1132.3" y1="871.1" x2="1132.3" y2="877.4" stroke="#1a1a1a" stroke-width="0.7"/>
<rect x="1216" y="852.4" width="4" height="1.4" rx="0" stroke="#555" stroke-width="0.5" fill="none"/>
<rect x="1211" y="853.8" width="18" height="0.8" rx="0" stroke="#777" stroke-width="0.4" fill="#999"/>
<rect x="1215" y="870.6" width="17" height="1.4" rx="0" stroke="#444" stroke-width="0.5" fill="#888"/>
<circle cx="1224" cy="871.6" r="0.9" stroke="#1a1a1a" stroke-width="0.5" fill="none"/>
<rect x="1136" y="853.6" width="3.6" height="1" rx="0" stroke="#555" stroke-width="0.4" fill="none"/>
<rect x="1128" y="870.4" width="5" height="1.2" rx="0" stroke="#555" stroke-width="0.4" fill="none"/>
<rect x="1247" y="846.2" width="11.2" height="7" rx="1.2" stroke="#1a1a1a" stroke-width="0.9" fill="#fff"/>
<rect x="1249" y="847.2" width="7.4" height="5" rx="1" stroke="#1a1a1a" stroke-width="0.6" fill="none"/>
<circle cx="1253.8" cy="848.8000000000001" r="0.5" stroke="#1a1a1a" stroke-width="0.2" fill="#1a1a1a"/>
<rect x="1247" y="871" width="11.2" height="7" rx="1.2" stroke="#1a1a1a" stroke-width="0.9" fill="#fff"/>
<rect x="1249" y="872" width="7.4" height="5" rx="1" stroke="#1a1a1a" stroke-width="0.6" fill="none"/>
<circle cx="1253.8" cy="873.6" r="0.5" stroke="#1a1a1a" stroke-width="0.2" fill="#1a1a1a"/>
<rect x="1269" y="841.4" width="10.6" height="3.2" rx="1.2" stroke="#1a1a1a" stroke-width="0.8" fill="#fff"/>
<circle cx="1278.4" cy="842.8" r="1.1" stroke="#1a1a1a" stroke-width="0.6" fill="#555"/>
<circle cx="1272.4" cy="843.1999999999999" r="1.0" stroke="#1a1a1a" stroke-width="0.6" fill="none"/>
<rect x="1269" y="880" width="10.6" height="3.2" rx="1.2" stroke="#1a1a1a" stroke-width="0.8" fill="#fff"/>
<circle cx="1278.4" cy="881.4" r="1.1" stroke="#1a1a1a" stroke-width="0.6" fill="#555"/>
<circle cx="1272.4" cy="881.8" r="1.0" stroke="#1a1a1a" stroke-width="0.6" fill="none"/>
<line x1="1276.6" y1="844.4" x2="1276.6" y2="853.6" stroke="#1a1a1a" stroke-width="0.8"/>
<line x1="1276.6" y1="871.4" x2="1276.6" y2="879.6" stroke="#1a1a1a" stroke-width="0.8"/>
<path d="M1263.2 854.6 L1274.5 854.6 L1274.5 857 L1285 857 L1285 868 L1274.5 868 L1274.5 870.6 L1263.2 870.6 Z" stroke="#1a1a1a" stroke-width="0.9" fill="#fff" />
<path d="M1264.5 856 Q1268 862.6 1264.5 869.4" stroke="#1a1a1a" stroke-width="0.7" fill="none" />
<path d="M1270 858.4 L1274.6 858 L1285 858.4 M1270 866.8 L1274.6 867 L1285 866.8 M1270 858.4 Q1272.4 862.6 1270 866.8" stroke="#1a1a1a" stroke-width="0.7" fill="none" />
<rect x="1276" y="859.8" width="6.4" height="5.4" rx="2.4" stroke="#1a1a1a" stroke-width="0.8" fill="none"/>
<circle cx="1268.3" cy="852.4" r="1.7" stroke="#444" stroke-width="0.7" fill="#aaa"/>
<circle cx="1268.3" cy="872.8" r="1.7" stroke="#444" stroke-width="0.7" fill="#aaa"/>
<rect x="1265.8" y="853.6" width="5.6" height="2" rx="0" stroke="#1a1a1a" stroke-width="0.6" fill="#ccc"/>
<rect x="1265.8" y="869.6" width="5.6" height="2" rx="0" stroke="#1a1a1a" stroke-width="0.6" fill="#ccc"/>
<rect x="1284.6" y="850.8" width="1.6" height="23" rx="0" stroke="#1a1a1a" stroke-width="0.7" fill="none"/>
<path d="M1286.2 851.4 L1296 851.4 L1296 873.6 L1286.2 873.6" stroke="#1a1a1a" stroke-width="0.9" fill="none" />
<path d="M1296 855.4 Q1288.6 856.4 1288.4 862.5 Q1288.6 868.6 1296 869.6" stroke="#1a1a1a" stroke-width="0.9" fill="none" />
<line x1="1286.2" y1="854.2" x2="1296" y2="854.2" stroke="#1a1a1a" stroke-width="0.6"/>
<line x1="1286.2" y1="870.8" x2="1296" y2="870.8" stroke="#1a1a1a" stroke-width="0.6"/>
<circle cx="1293.4" cy="859" r="0.5" stroke="#1a1a1a" stroke-width="0.2" fill="#1a1a1a"/>
<circle cx="1292.2" cy="862.6" r="0.5" stroke="#1a1a1a" stroke-width="0.2" fill="#1a1a1a"/>
<circle cx="1293.4" cy="866.2" r="0.5" stroke="#1a1a1a" stroke-width="0.2" fill="#1a1a1a"/>
<circle cx="1295" cy="857" r="0.5" stroke="#1a1a1a" stroke-width="0.2" fill="#1a1a1a"/>
<circle cx="1295" cy="868" r="0.5" stroke="#1a1a1a" stroke-width="0.2" fill="#1a1a1a"/>
<circle cx="1287.4" cy="852.4" r="0.6" stroke="#1a1a1a" stroke-width="0.4" fill="none"/>
<circle cx="1287.4" cy="872.6" r="0.6" stroke="#1a1a1a" stroke-width="0.4" fill="none"/>
<rect x="1296.2" y="815.6" width="46" height="92.8" rx="1.2" stroke="#1a1a1a" stroke-width="0.9" fill="#fff"/>
<line x1="1297.6" y1="817.2" x2="1341" y2="817.2" stroke="#888" stroke-width="0.6"/>
<line x1="1297.6" y1="906.8" x2="1341" y2="906.8" stroke="#888" stroke-width="0.6"/>
<rect x="1320.2" y="820.1" width="20.2" height="83.8" rx="0" stroke="#1a1a1a" stroke-width="0.9" fill="none"/>
<line x1="1318.9" y1="817.5" x2="1318.9" y2="906.5" stroke="#1a1a1a" stroke-width="1.3"/>
<line x1="1321.6" y1="821" x2="1321.6" y2="903" stroke="#666" stroke-width="0.5"/>
<rect x="1301.3" y="822" width="14.9" height="4.6" rx="0" stroke="#1a1a1a" stroke-width="0.8" fill="none"/>
<rect x="1302.3" y="822.6" width="3.6" height="3.4" rx="0" stroke="#1a1a1a" stroke-width="0.5" fill="#444"/>
<rect x="1301.3" y="898" width="14.9" height="4.6" rx="0" stroke="#1a1a1a" stroke-width="0.8" fill="none"/>
<rect x="1302.3" y="898.6" width="3.6" height="3.4" rx="0" stroke="#1a1a1a" stroke-width="0.5" fill="#444"/>
<path d="M1309 815.6 v2.4 h6.4 v-1 M1309 908.4 v-2.4 h6.4 v1" stroke="#1a1a1a" stroke-width="0.6" fill="none" />
<rect x="1337" y="855.2" width="5.2" height="13.6" rx="0" stroke="#1a1a1a" stroke-width="0.9" fill="#fff"/>
<rect x="1338.2" y="856.6" width="2.8" height="10.8" rx="0" stroke="#1a1a1a" stroke-width="0.5" fill="none"/>
<circle cx="1318.6" cy="832" r="0.45" stroke="#1a1a1a" stroke-width="0.2" fill="#1a1a1a"/>
<circle cx="1322.6" cy="843" r="0.45" stroke="#1a1a1a" stroke-width="0.2" fill="#1a1a1a"/>
<circle cx="1318.6" cy="851" r="0.45" stroke="#1a1a1a" stroke-width="0.2" fill="#1a1a1a"/>
<circle cx="1322.6" cy="862.6" r="0.45" stroke="#1a1a1a" stroke-width="0.2" fill="#1a1a1a"/>
<circle cx="1318.6" cy="874" r="0.45" stroke="#1a1a1a" stroke-width="0.2" fill="#1a1a1a"/>
<circle cx="1322.6" cy="882" r="0.45" stroke="#1a1a1a" stroke-width="0.2" fill="#1a1a1a"/>
<circle cx="1318.6" cy="893" r="0.45" stroke="#1a1a1a" stroke-width="0.2" fill="#1a1a1a"/>
<line x1="1327" y1="821.6" x2="1333" y2="821.6" stroke="#1a1a1a" stroke-width="0.9"/>
<line x1="1327" y1="902.6" x2="1333" y2="902.6" stroke="#1a1a1a" stroke-width="0.9"/>
<defs><pattern id="mesh" x="1347" y="764.2" width="2" height="2.94" patternUnits="userSpaceOnUse"><rect width="2" height="2.94" fill="#1a1a1a"/><rect x="1" y="1.12" width="1" height="1.7" fill="#e4e4e4"/></pattern></defs>
<rect x="1338.3" y="753.6" width="90.7" height="217.5999999999999" rx="11" stroke="#1a1a1a" stroke-width="1.0" fill="#fff"/>
<rect x="1342.9" y="757.9" width="81.8" height="208.99999999999991" rx="7.5" stroke="#1a1a1a" stroke-width="1.8" fill="#fff"/>
<rect x="1347.4" y="764.3" width="73" height="196.20000000000005" rx="0" stroke="none" stroke-width="0" fill="url(#mesh)"/>
<rect x="1375" y="768" width="5" height="189" fill="#111" opacity="0.35"/>
<rect x="1406.5" y="768" width="5.5" height="189" fill="#111" opacity="0.35"/>
<rect x="1420.4" y="822" width="3.2" height="85" fill="#cfcfcf"/>
<line x1="1420.4" y1="822" x2="1420.4" y2="907" stroke="#777" stroke-width="0.6"/>
<circle cx="1384.4" cy="787.3" r="2.75" stroke="#1a1a1a" stroke-width="0.5" fill="#fff"/>
<circle cx="1401.1" cy="787.3" r="2.75" stroke="#1a1a1a" stroke-width="0.5" fill="#fff"/>
<circle cx="1384.4" cy="937.5" r="2.75" stroke="#1a1a1a" stroke-width="0.5" fill="#fff"/>
<circle cx="1401.1" cy="937.5" r="2.75" stroke="#1a1a1a" stroke-width="0.5" fill="#fff"/>
<path d="M1354.3 756.6 L1354.3 763.6 Q1354.6 769.4 1360.6 769.6 L1406.6 769.6 Q1412.6 769.4 1412.9 763.6 L1412.9 756.6 L1408.9 756.6 L1408.9 762.4 Q1408.6 765.2 1405.4 765.4 L1361.8 765.4 Q1358.9 765.2 1358.6 762.4 L1358.6 756.6 Z" stroke="#1a1a1a" stroke-width="1.1" fill="#fff" />
<rect x="1359.3" y="758.6" width="48.9" height="5.600000000000023" rx="0" stroke="none" stroke-width="0" fill="#fff"/>
<line x1="1360" y1="761.7" x2="1408" y2="761.7" stroke="#555" stroke-width="0.8"/>
<line x1="1361" y1="757.7" x2="1407.5" y2="757.7" stroke="#666" stroke-width="0.9"/>
<line x1="1361.5" y1="764.7" x2="1406" y2="764.7" stroke="#111" stroke-width="1.3" stroke-dasharray="0.9 1.0"/>
<line x1="1350" y1="753.6" x2="1417" y2="753.6" stroke="#1a1a1a" stroke-width="1.0"/>
<rect x="1357.1" y="750.9" width="3.8" height="2.1" rx="0.8" stroke="#1a1a1a" stroke-width="0.5" fill="#1a1a1a"/>
<rect x="1409.3" y="750.9" width="3.8" height="2.1" rx="0.8" stroke="#1a1a1a" stroke-width="0.5" fill="#1a1a1a"/>
<path d="M1349 754 Q1351 751.2 1354 751.4 L1357 751.4" stroke="#1a1a1a" stroke-width="0.6" fill="none" />
<path d="M1418.4 754 Q1416.4 751.2 1413.4 751.4 L1412.9 751.4" stroke="#1a1a1a" stroke-width="0.6" fill="none" />
<line x1="1357" y1="752.2" x2="1410" y2="752.2" stroke="#777" stroke-width="0.8"/>
<path d="M1354.3 968.1999999999999 L1354.3 961.1999999999999 Q1354.6 955.4 1360.6 955.1999999999999 L1406.6 955.1999999999999 Q1412.6 955.4 1412.9 961.1999999999999 L1412.9 968.1999999999999 L1408.9 968.1999999999999 L1408.9 962.4 Q1408.6 959.5999999999999 1405.4 959.4 L1361.8 959.4 Q1358.9 959.5999999999999 1358.6 962.4 L1358.6 968.1999999999999 Z" stroke="#1a1a1a" stroke-width="1.1" fill="#fff" />
<rect x="1359.3" y="960.5999999999999" width="48.9" height="5.600000000000023" rx="0" stroke="none" stroke-width="0" fill="#fff"/>
<line x1="1360" y1="963.0999999999999" x2="1408" y2="963.0999999999999" stroke="#555" stroke-width="0.8"/>
<line x1="1361" y1="967.0999999999999" x2="1407.5" y2="967.0999999999999" stroke="#666" stroke-width="0.9"/>
<line x1="1361.5" y1="960.0999999999999" x2="1406" y2="960.0999999999999" stroke="#111" stroke-width="1.3" stroke-dasharray="0.9 1.0"/>
<path d="M1429 818.6 Q1432.9 819.2 1432.9 822.6 L1432.9 827.1 Q1432.6 829.6 1430 830.0" stroke="#1a1a1a" stroke-width="0.9" fill="none" />
<rect x="1423.7" y="822.2" width="1.5" height="8" rx="0" stroke="#1a1a1a" stroke-width="0.5" fill="#999"/>
<rect x="1430.2" y="822.6" width="1.6" height="6" rx="0" stroke="#1a1a1a" stroke-width="0.5" fill="#999"/>
<path d="M1423.4 827.6 l1 2.8 M1431 827.6 l1.4 2.6" stroke="#1a1a1a" stroke-width="1.6" fill="none" />
<path d="M1429 894.8 Q1432.9 895.4 1432.9 898.8 L1432.9 903.3 Q1432.6 905.8 1430 906.1999999999999" stroke="#1a1a1a" stroke-width="0.9" fill="none" />
<rect x="1423.7" y="898.4" width="1.5" height="8" rx="0" stroke="#1a1a1a" stroke-width="0.5" fill="#999"/>
<rect x="1430.2" y="898.8" width="1.6" height="6" rx="0" stroke="#1a1a1a" stroke-width="0.5" fill="#999"/>
<path d="M1423.4 903.8 l1 2.8 M1431 903.8 l1.4 2.6" stroke="#1a1a1a" stroke-width="1.6" fill="none" />
<path d="M1343.2 825.4 L1360 826.4 L1357.5 842.6 L1344.3 839.4 Z" stroke="#1a1a1a" stroke-width="0.7" fill="#fff" />
<circle cx="1357.5" cy="834.3" r="0.45" stroke="#1a1a1a" stroke-width="0.2" fill="#1a1a1a"/>
<path d="M1334.4 815.6 Q1335 812.6 1338.3 812.8" stroke="#1a1a1a" stroke-width="0.7" fill="none" />
<path d="M1334.4 908.4 Q1335 911.4 1338.3 911.2" stroke="#1a1a1a" stroke-width="0.7" fill="none" />
<rect x="1342.2" y="816.5" width="1.4" height="3" rx="0" stroke="#1a1a1a" stroke-width="0.5" fill="#999"/>
<rect x="1337" y="855.2" width="5.2" height="13.6" rx="0" stroke="#1a1a1a" stroke-width="0.9" fill="#fff"/>
<rect x="1338.2" y="856.6" width="2.8" height="10.8" rx="0" stroke="#1a1a1a" stroke-width="0.5" fill="none"/>
<line x1="193" y1="102.6" x2="360" y2="102.6" stroke="#444" stroke-width="1"/>
<line x1="213.2" y1="103" x2="213.2" y2="441" stroke="#555" stroke-width="1"/>
<path d="M213.2 103 L210.7 112 L215.7 112 Z" stroke="#555" stroke-width="0.5" fill="#555" />
<path d="M213.2 441.5 L210.7 432.5 L215.7 432.5 Z" stroke="#555" stroke-width="0.5" fill="#555" />
<line x1="143.5" y1="442.0" x2="360" y2="442.0" stroke="#333" stroke-width="1"/>
<text x="83.5" y="232" font-size="39" fill="#000" stroke="#000" stroke-width="0.45">2.84m</text>
<line x1="229.7" y1="364.5" x2="229.7" y2="501" stroke="#333" stroke-width="0.9"/>
<line x1="1386.7" y1="364" x2="1386.7" y2="501" stroke="#333" stroke-width="0.9"/>
<line x1="230" y1="473.2" x2="1386.7" y2="473.2" stroke="#555" stroke-width="1"/>
<line x1="368.1" y1="388" x2="368.1" y2="501" stroke="#333" stroke-width="0.9"/>
<line x1="654.4" y1="388" x2="654.4" y2="501" stroke="#333" stroke-width="0.9"/>
<line x1="370" y1="488.2" x2="653" y2="488.2" stroke="#555" stroke-width="1"/>
<path d="M370 488.2 L379 485.7 L379 490.7 Z" stroke="#555" stroke-width="0.5" fill="#555" />
<path d="M653 488.2 L644 485.7 L644 490.7 Z" stroke="#555" stroke-width="0.5" fill="#555" />
<text x="502" y="536" font-size="39" fill="#000" stroke="#000" stroke-width="0.45">2.85m</text>
<text x="837.1" y="522.3" font-size="37.7" fill="#000" stroke="#000" stroke-width="0.45">12.6m</text>
<line x1="177.5" y1="715.5" x2="430" y2="715.5" stroke="#555" stroke-width="1"/>
<line x1="177.5" y1="1009.3" x2="430" y2="1009.3" stroke="#555" stroke-width="1"/>
<line x1="197" y1="716" x2="197" y2="1009" stroke="#555" stroke-width="1"/>
<path d="M197 716 L194.5 725 L199.5 725 Z" stroke="#555" stroke-width="0.5" fill="#555" />
<path d="M197 1009 L194.5 1000 L199.5 1000 Z" stroke="#555" stroke-width="0.5" fill="#555" />
<text x="58" y="831.6" font-size="39" fill="#000" stroke="#000" stroke-width="0.45">2.5m</text>
</svg>
</body></html>
